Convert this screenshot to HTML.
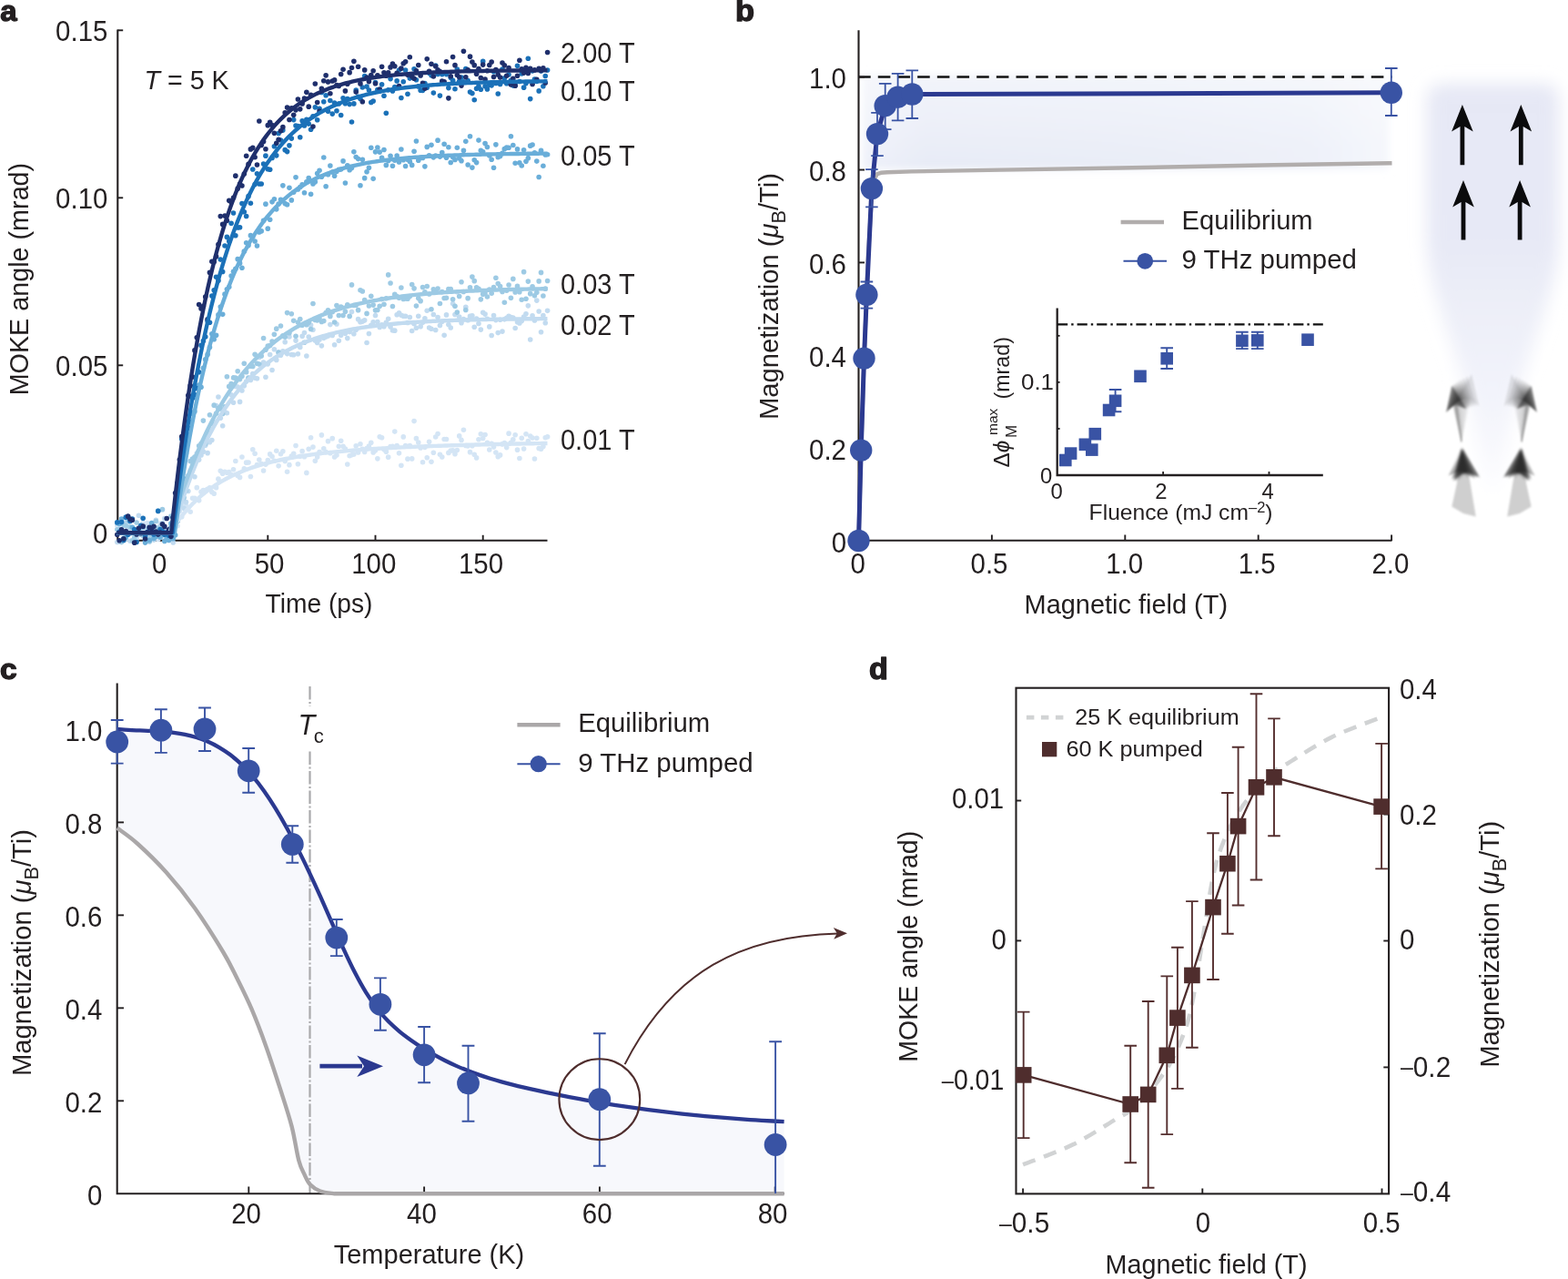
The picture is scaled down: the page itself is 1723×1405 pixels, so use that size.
<!DOCTYPE html>
<html lang="en">
<head>
<meta charset="utf-8">
<title>Figure: light-induced magnetization</title>
<style>
html,body{margin:0;padding:0;background:#fff;}
body{width:1723px;height:1405px;overflow:hidden;font-family:"Liberation Sans",sans-serif;}
svg{display:block;}
svg text{font-family:"Liberation Sans",sans-serif;fill:#231f20;}
</style>
</head>
<body>
<svg width="1723" height="1405" viewBox="0 0 1723 1405">
<defs>
<filter id="blur2" x="-30%" y="-30%" width="160%" height="160%"><feGaussianBlur stdDeviation="0.9"/></filter>
<filter id="blur5" x="-10%" y="-30%" width="120%" height="160%"><feGaussianBlur stdDeviation="4"/></filter>
<filter id="blur12" x="-30%" y="-30%" width="160%" height="160%"><feGaussianBlur stdDeviation="9"/></filter>
<linearGradient id="bshade" x1="0" y1="0" x2="1" y2="0">
<stop offset="0" stop-color="#edf0f9"/><stop offset="0.12" stop-color="#e6eaf6"/><stop offset="0.5" stop-color="#e9edf7"/><stop offset="0.85" stop-color="#eef1f9"/><stop offset="1" stop-color="#f5f7fc"/>
</linearGradient>
<linearGradient id="bshade2" x1="0" y1="0" x2="0.35" y2="1">
<stop offset="0" stop-color="#fff" stop-opacity="0.5"/><stop offset="0.45" stop-color="#fff" stop-opacity="0.3"/><stop offset="1" stop-color="#fff" stop-opacity="0"/>
</linearGradient>
<linearGradient id="spinbg" x1="0" y1="90" x2="0" y2="548" gradientUnits="userSpaceOnUse">
<stop offset="0" stop-color="#e6e8f5"/><stop offset="0.38" stop-color="#e7e9f6"/><stop offset="0.55" stop-color="#edeff8"/><stop offset="0.78" stop-color="#f3f4fb"/><stop offset="1" stop-color="#fdfdff"/>
</linearGradient>
<radialGradient id="headUL" gradientUnits="userSpaceOnUse" cx="1603.8" cy="434.0" r="19"><stop offset="0" stop-color="#111" stop-opacity="0.95"/><stop offset="0.3" stop-color="#333" stop-opacity="0.8"/><stop offset="0.65" stop-color="#666" stop-opacity="0.55"/><stop offset="1" stop-color="#999" stop-opacity="0.3"/></radialGradient>
<radialGradient id="headLL" gradientUnits="userSpaceOnUse" cx="1610.6" cy="512.4" r="17"><stop offset="0" stop-color="#050505" stop-opacity="1"/><stop offset="0.35" stop-color="#111" stop-opacity="0.95"/><stop offset="0.7" stop-color="#555" stop-opacity="0.65"/><stop offset="1" stop-color="#999" stop-opacity="0.35"/></radialGradient>
<radialGradient id="headUR" gradientUnits="userSpaceOnUse" cx="1674.2" cy="434.0" r="19"><stop offset="0" stop-color="#111" stop-opacity="0.95"/><stop offset="0.3" stop-color="#333" stop-opacity="0.8"/><stop offset="0.65" stop-color="#666" stop-opacity="0.55"/><stop offset="1" stop-color="#999" stop-opacity="0.3"/></radialGradient>
<radialGradient id="headLR" gradientUnits="userSpaceOnUse" cx="1667.4" cy="512.4" r="17"><stop offset="0" stop-color="#050505" stop-opacity="1"/><stop offset="0.35" stop-color="#111" stop-opacity="0.95"/><stop offset="0.7" stop-color="#555" stop-opacity="0.65"/><stop offset="1" stop-color="#999" stop-opacity="0.35"/></radialGradient>
<linearGradient id="shaftU" gradientUnits="userSpaceOnUse" x1="0" y1="438.7" x2="0" y2="486.7"><stop offset="0" stop-color="#888" stop-opacity="0.5"/><stop offset="0.6" stop-color="#666" stop-opacity="0.6"/><stop offset="1" stop-color="#555" stop-opacity="0.55"/></linearGradient>
<linearGradient id="tailL" gradientUnits="userSpaceOnUse" x1="0" y1="525.3" x2="0" y2="567.5"><stop offset="0" stop-color="#999" stop-opacity="0.7"/><stop offset="0.3" stop-color="#bbb" stop-opacity="0.75"/><stop offset="1" stop-color="#ccc" stop-opacity="0.75"/></linearGradient>

</defs>
<g id="panel-a">
<path d="M129.3 32.4V593.8H601.5" stroke="#231f20" stroke-width="2.1" fill="none"/>
<line x1="129.3" y1="401.3" x2="135.2" y2="401.3" stroke="#231f20" stroke-width="1.9"/>
<line x1="129.3" y1="217.3" x2="135.2" y2="217.3" stroke="#231f20" stroke-width="1.9"/>
<line x1="129.3" y1="33.3" x2="135.2" y2="33.3" stroke="#231f20" stroke-width="1.9"/>
<line x1="294.3" y1="594" x2="294.3" y2="587.8" stroke="#231f20" stroke-width="1.9"/>
<line x1="412.5" y1="594" x2="412.5" y2="587.8" stroke="#231f20" stroke-width="1.9"/>
<line x1="530.7" y1="594" x2="530.7" y2="587.8" stroke="#231f20" stroke-width="1.9"/>
<g fill="#d4e5f5"><circle cx="128.82" cy="577.45" r="2.8"/><circle cx="131.18" cy="585.32" r="2.8"/><circle cx="133.55" cy="581.36" r="2.8"/><circle cx="135.91" cy="571.08" r="2.8"/><circle cx="138.28" cy="592.2" r="2.8"/><circle cx="140.64" cy="576.6" r="2.8"/><circle cx="143" cy="572.11" r="2.8"/><circle cx="145.37" cy="583.21" r="2.8"/><circle cx="147.73" cy="583.33" r="2.8"/><circle cx="150.1" cy="590.84" r="2.8"/><circle cx="152.46" cy="579.5" r="2.8"/><circle cx="154.82" cy="581.33" r="2.8"/><circle cx="157.19" cy="574.67" r="2.8"/><circle cx="159.55" cy="578.93" r="2.8"/><circle cx="161.92" cy="574.59" r="2.8"/><circle cx="164.28" cy="582.3" r="2.8"/><circle cx="166.64" cy="580.77" r="2.8"/><circle cx="169.01" cy="578.89" r="2.8"/><circle cx="171.37" cy="581.21" r="2.8"/><circle cx="173.74" cy="592.47" r="2.8"/><circle cx="176.1" cy="574.93" r="2.8"/><circle cx="178.46" cy="577.51" r="2.8"/><circle cx="180.83" cy="589.67" r="2.8"/><circle cx="183.19" cy="587.96" r="2.8"/><circle cx="185.56" cy="585.25" r="2.8"/><circle cx="187.92" cy="577.45" r="2.8"/><circle cx="190.28" cy="579.45" r="2.8"/><circle cx="192.65" cy="568.36" r="2.8"/><circle cx="195.01" cy="577.7" r="2.8"/><circle cx="197.38" cy="561.62" r="2.8"/><circle cx="199.74" cy="567.72" r="2.8"/><circle cx="202.1" cy="553.62" r="2.8"/><circle cx="204.47" cy="556.05" r="2.8"/><circle cx="206.83" cy="557.32" r="2.8"/><circle cx="209.2" cy="562.25" r="2.8"/><circle cx="211.56" cy="547.29" r="2.8"/><circle cx="213.92" cy="547.38" r="2.8"/><circle cx="216.29" cy="535.64" r="2.8"/><circle cx="218.65" cy="549.84" r="2.8"/><circle cx="221.02" cy="540.24" r="2.8"/><circle cx="223.38" cy="538.64" r="2.8"/><circle cx="225.74" cy="538.56" r="2.8"/><circle cx="228.11" cy="537.34" r="2.8"/><circle cx="230.47" cy="535.8" r="2.8"/><circle cx="232.84" cy="540.44" r="2.8"/><circle cx="235.2" cy="542.19" r="2.8"/><circle cx="237.56" cy="535.63" r="2.8"/><circle cx="239.93" cy="526.15" r="2.8"/><circle cx="242.29" cy="517.26" r="2.8"/><circle cx="244.66" cy="520.2" r="2.8"/><circle cx="247.02" cy="518.26" r="2.8"/><circle cx="249.38" cy="519.22" r="2.8"/><circle cx="251.75" cy="518.63" r="2.8"/><circle cx="254.11" cy="521.62" r="2.8"/><circle cx="256.48" cy="515.72" r="2.8"/><circle cx="258.84" cy="506.51" r="2.8"/><circle cx="261.2" cy="522.47" r="2.8"/><circle cx="263.57" cy="524.42" r="2.8"/><circle cx="265.93" cy="501.96" r="2.8"/><circle cx="268.3" cy="514.91" r="2.8"/><circle cx="270.66" cy="508.13" r="2.8"/><circle cx="273.02" cy="508.04" r="2.8"/><circle cx="275.39" cy="523.47" r="2.8"/><circle cx="277.75" cy="493.76" r="2.8"/><circle cx="280.12" cy="498.31" r="2.8"/><circle cx="282.48" cy="510.5" r="2.8"/><circle cx="284.84" cy="505.11" r="2.8"/><circle cx="287.21" cy="509.48" r="2.8"/><circle cx="289.57" cy="516.99" r="2.8"/><circle cx="291.94" cy="510.08" r="2.8"/><circle cx="294.3" cy="505.52" r="2.8"/><circle cx="296.66" cy="498.9" r="2.8"/><circle cx="299.03" cy="501.61" r="2.8"/><circle cx="301.39" cy="506.3" r="2.8"/><circle cx="303.76" cy="495.27" r="2.8"/><circle cx="306.12" cy="511.86" r="2.8"/><circle cx="308.48" cy="498.77" r="2.8"/><circle cx="310.85" cy="495.69" r="2.8"/><circle cx="313.21" cy="506.58" r="2.8"/><circle cx="315.58" cy="518.25" r="2.8"/><circle cx="317.94" cy="510.65" r="2.8"/><circle cx="320.3" cy="500.96" r="2.8"/><circle cx="322.67" cy="498.18" r="2.8"/><circle cx="325.03" cy="489.51" r="2.8"/><circle cx="327.4" cy="509.78" r="2.8"/><circle cx="329.76" cy="501.26" r="2.8"/><circle cx="332.12" cy="495.65" r="2.8"/><circle cx="334.49" cy="501.82" r="2.8"/><circle cx="336.85" cy="519.38" r="2.8"/><circle cx="339.22" cy="493.33" r="2.8"/><circle cx="341.58" cy="480.81" r="2.8"/><circle cx="343.94" cy="491.08" r="2.8"/><circle cx="346.31" cy="506.33" r="2.8"/><circle cx="348.67" cy="501.95" r="2.8"/><circle cx="351.04" cy="496.52" r="2.8"/><circle cx="353.4" cy="477.88" r="2.8"/><circle cx="355.76" cy="492.76" r="2.8"/><circle cx="358.13" cy="496.58" r="2.8"/><circle cx="360.49" cy="484.63" r="2.8"/><circle cx="362.86" cy="497.65" r="2.8"/><circle cx="365.22" cy="481.67" r="2.8"/><circle cx="367.58" cy="502.05" r="2.8"/><circle cx="369.95" cy="500.11" r="2.8"/><circle cx="372.31" cy="490.21" r="2.8"/><circle cx="374.68" cy="484.29" r="2.8"/><circle cx="377.04" cy="490.32" r="2.8"/><circle cx="379.4" cy="492.96" r="2.8"/><circle cx="381.77" cy="509.95" r="2.8"/><circle cx="384.13" cy="500.77" r="2.8"/><circle cx="386.5" cy="499.75" r="2.8"/><circle cx="388.86" cy="498.94" r="2.8"/><circle cx="391.22" cy="489.69" r="2.8"/><circle cx="393.59" cy="496.97" r="2.8"/><circle cx="395.95" cy="487.71" r="2.8"/><circle cx="398.32" cy="493.25" r="2.8"/><circle cx="400.68" cy="496.44" r="2.8"/><circle cx="403.04" cy="492.63" r="2.8"/><circle cx="405.41" cy="489.95" r="2.8"/><circle cx="407.77" cy="486.32" r="2.8"/><circle cx="410.14" cy="496.98" r="2.8"/><circle cx="412.5" cy="494.85" r="2.8"/><circle cx="414.86" cy="503.87" r="2.8"/><circle cx="417.23" cy="479.7" r="2.8"/><circle cx="419.59" cy="480.79" r="2.8"/><circle cx="421.96" cy="493.86" r="2.8"/><circle cx="424.32" cy="496.15" r="2.8"/><circle cx="426.68" cy="502.15" r="2.8"/><circle cx="429.05" cy="490.65" r="2.8"/><circle cx="431.41" cy="490.23" r="2.8"/><circle cx="433.78" cy="474.11" r="2.8"/><circle cx="436.14" cy="489.66" r="2.8"/><circle cx="438.5" cy="497.84" r="2.8"/><circle cx="440.87" cy="511.22" r="2.8"/><circle cx="443.23" cy="479.9" r="2.8"/><circle cx="445.6" cy="489.67" r="2.8"/><circle cx="447.96" cy="504.13" r="2.8"/><circle cx="450.32" cy="489.53" r="2.8"/><circle cx="452.69" cy="503.91" r="2.8"/><circle cx="455.05" cy="462.61" r="2.8"/><circle cx="457.42" cy="481.63" r="2.8"/><circle cx="459.78" cy="485.96" r="2.8"/><circle cx="462.14" cy="491.91" r="2.8"/><circle cx="464.51" cy="507.72" r="2.8"/><circle cx="466.87" cy="491.33" r="2.8"/><circle cx="469.24" cy="502.8" r="2.8"/><circle cx="471.6" cy="485.3" r="2.8"/><circle cx="473.96" cy="507.36" r="2.8"/><circle cx="476.33" cy="497.3" r="2.8"/><circle cx="478.69" cy="480" r="2.8"/><circle cx="481.06" cy="476.48" r="2.8"/><circle cx="483.42" cy="499.27" r="2.8"/><circle cx="485.78" cy="502.05" r="2.8"/><circle cx="488.15" cy="482.43" r="2.8"/><circle cx="490.51" cy="482.57" r="2.8"/><circle cx="492.88" cy="497.38" r="2.8"/><circle cx="495.24" cy="494.94" r="2.8"/><circle cx="497.6" cy="494.87" r="2.8"/><circle cx="499.97" cy="498.81" r="2.8"/><circle cx="502.33" cy="494.61" r="2.8"/><circle cx="504.7" cy="478.91" r="2.8"/><circle cx="507.06" cy="483.39" r="2.8"/><circle cx="509.42" cy="472.25" r="2.8"/><circle cx="511.79" cy="489.54" r="2.8"/><circle cx="514.15" cy="489.87" r="2.8"/><circle cx="516.52" cy="496.66" r="2.8"/><circle cx="518.88" cy="489.65" r="2.8"/><circle cx="521.24" cy="499.21" r="2.8"/><circle cx="523.61" cy="502.91" r="2.8"/><circle cx="525.97" cy="482.82" r="2.8"/><circle cx="528.34" cy="476.74" r="2.8"/><circle cx="530.7" cy="481.57" r="2.8"/><circle cx="533.06" cy="477.5" r="2.8"/><circle cx="535.43" cy="486.19" r="2.8"/><circle cx="537.79" cy="493.99" r="2.8"/><circle cx="540.16" cy="487.42" r="2.8"/><circle cx="542.52" cy="491.09" r="2.8"/><circle cx="544.88" cy="497.01" r="2.8"/><circle cx="547.25" cy="501.66" r="2.8"/><circle cx="549.61" cy="499.91" r="2.8"/><circle cx="551.98" cy="487.9" r="2.8"/><circle cx="554.34" cy="486.59" r="2.8"/><circle cx="556.7" cy="491.6" r="2.8"/><circle cx="559.07" cy="476.14" r="2.8"/><circle cx="561.43" cy="486.22" r="2.8"/><circle cx="563.8" cy="482.9" r="2.8"/><circle cx="566.16" cy="477.71" r="2.8"/><circle cx="568.52" cy="494.17" r="2.8"/><circle cx="570.89" cy="503.43" r="2.8"/><circle cx="573.25" cy="481.35" r="2.8"/><circle cx="575.62" cy="492.97" r="2.8"/><circle cx="577.98" cy="476.74" r="2.8"/><circle cx="580.34" cy="484.58" r="2.8"/><circle cx="582.71" cy="479.12" r="2.8"/><circle cx="585.07" cy="481.04" r="2.8"/><circle cx="587.44" cy="504.03" r="2.8"/><circle cx="589.8" cy="481.32" r="2.8"/><circle cx="592.16" cy="492.56" r="2.8"/><circle cx="594.53" cy="493.19" r="2.8"/><circle cx="596.89" cy="490.55" r="2.8"/><circle cx="599.26" cy="480.77" r="2.8"/><circle cx="601.62" cy="479.79" r="2.8"/></g>
<g fill="#c2dbf0"><circle cx="128.82" cy="595.44" r="2.8"/><circle cx="131.18" cy="595.12" r="2.8"/><circle cx="133.55" cy="572.34" r="2.8"/><circle cx="135.91" cy="574.73" r="2.8"/><circle cx="138.28" cy="574.41" r="2.8"/><circle cx="140.64" cy="580.49" r="2.8"/><circle cx="143" cy="594.24" r="2.8"/><circle cx="145.37" cy="579.77" r="2.8"/><circle cx="147.73" cy="582.63" r="2.8"/><circle cx="150.1" cy="591.88" r="2.8"/><circle cx="152.46" cy="566.21" r="2.8"/><circle cx="154.82" cy="580.21" r="2.8"/><circle cx="157.19" cy="580.23" r="2.8"/><circle cx="159.55" cy="586.49" r="2.8"/><circle cx="161.92" cy="578.66" r="2.8"/><circle cx="164.28" cy="587.75" r="2.8"/><circle cx="166.64" cy="590.18" r="2.8"/><circle cx="169.01" cy="593.08" r="2.8"/><circle cx="171.37" cy="571.26" r="2.8"/><circle cx="173.74" cy="579.61" r="2.8"/><circle cx="176.1" cy="578.35" r="2.8"/><circle cx="178.46" cy="574.43" r="2.8"/><circle cx="180.83" cy="569.53" r="2.8"/><circle cx="183.19" cy="582.34" r="2.8"/><circle cx="185.56" cy="589.61" r="2.8"/><circle cx="187.92" cy="580.2" r="2.8"/><circle cx="190.28" cy="596.06" r="2.8"/><circle cx="192.65" cy="561.61" r="2.8"/><circle cx="195.01" cy="572.46" r="2.8"/><circle cx="197.38" cy="552.42" r="2.8"/><circle cx="199.74" cy="544.68" r="2.8"/><circle cx="202.1" cy="558.35" r="2.8"/><circle cx="204.47" cy="551.64" r="2.8"/><circle cx="206.83" cy="539.51" r="2.8"/><circle cx="209.2" cy="516.96" r="2.8"/><circle cx="211.56" cy="507.4" r="2.8"/><circle cx="213.92" cy="523.78" r="2.8"/><circle cx="216.29" cy="497.98" r="2.8"/><circle cx="218.65" cy="505.12" r="2.8"/><circle cx="221.02" cy="499.9" r="2.8"/><circle cx="223.38" cy="496.16" r="2.8"/><circle cx="225.74" cy="489.21" r="2.8"/><circle cx="228.11" cy="497.63" r="2.8"/><circle cx="230.47" cy="485.81" r="2.8"/><circle cx="232.84" cy="483.43" r="2.8"/><circle cx="235.2" cy="463.9" r="2.8"/><circle cx="237.56" cy="445.64" r="2.8"/><circle cx="239.93" cy="435.97" r="2.8"/><circle cx="242.29" cy="459.21" r="2.8"/><circle cx="244.66" cy="467.72" r="2.8"/><circle cx="247.02" cy="452.52" r="2.8"/><circle cx="249.38" cy="453.75" r="2.8"/><circle cx="251.75" cy="424.59" r="2.8"/><circle cx="254.11" cy="433.84" r="2.8"/><circle cx="256.48" cy="442.2" r="2.8"/><circle cx="258.84" cy="424.49" r="2.8"/><circle cx="261.2" cy="425.12" r="2.8"/><circle cx="263.57" cy="441.41" r="2.8"/><circle cx="265.93" cy="429.04" r="2.8"/><circle cx="268.3" cy="423.85" r="2.8"/><circle cx="270.66" cy="419.05" r="2.8"/><circle cx="273.02" cy="415.62" r="2.8"/><circle cx="275.39" cy="417.44" r="2.8"/><circle cx="277.75" cy="410.51" r="2.8"/><circle cx="280.12" cy="415.18" r="2.8"/><circle cx="282.48" cy="415.81" r="2.8"/><circle cx="284.84" cy="392.47" r="2.8"/><circle cx="287.21" cy="400.71" r="2.8"/><circle cx="289.57" cy="398.13" r="2.8"/><circle cx="291.94" cy="414.26" r="2.8"/><circle cx="294.3" cy="399.87" r="2.8"/><circle cx="296.66" cy="389.47" r="2.8"/><circle cx="299.03" cy="406.46" r="2.8"/><circle cx="301.39" cy="383.78" r="2.8"/><circle cx="303.76" cy="395.38" r="2.8"/><circle cx="306.12" cy="386.91" r="2.8"/><circle cx="308.48" cy="390.21" r="2.8"/><circle cx="310.85" cy="385.73" r="2.8"/><circle cx="313.21" cy="375.71" r="2.8"/><circle cx="315.58" cy="388.62" r="2.8"/><circle cx="317.94" cy="370" r="2.8"/><circle cx="320.3" cy="389.53" r="2.8"/><circle cx="322.67" cy="389.7" r="2.8"/><circle cx="325.03" cy="374.08" r="2.8"/><circle cx="327.4" cy="388.7" r="2.8"/><circle cx="329.76" cy="381.52" r="2.8"/><circle cx="332.12" cy="369.24" r="2.8"/><circle cx="334.49" cy="365.59" r="2.8"/><circle cx="336.85" cy="391.03" r="2.8"/><circle cx="339.22" cy="369.99" r="2.8"/><circle cx="341.58" cy="356.95" r="2.8"/><circle cx="343.94" cy="362.2" r="2.8"/><circle cx="346.31" cy="374.07" r="2.8"/><circle cx="348.67" cy="376.47" r="2.8"/><circle cx="351.04" cy="373.03" r="2.8"/><circle cx="353.4" cy="379.87" r="2.8"/><circle cx="355.76" cy="371.33" r="2.8"/><circle cx="358.13" cy="369.97" r="2.8"/><circle cx="360.49" cy="368.95" r="2.8"/><circle cx="362.86" cy="356.59" r="2.8"/><circle cx="365.22" cy="368.46" r="2.8"/><circle cx="367.58" cy="378.71" r="2.8"/><circle cx="369.95" cy="355.99" r="2.8"/><circle cx="372.31" cy="374.2" r="2.8"/><circle cx="374.68" cy="368.15" r="2.8"/><circle cx="377.04" cy="364.87" r="2.8"/><circle cx="379.4" cy="366.24" r="2.8"/><circle cx="381.77" cy="371.58" r="2.8"/><circle cx="384.13" cy="364.47" r="2.8"/><circle cx="386.5" cy="342.54" r="2.8"/><circle cx="388.86" cy="366.76" r="2.8"/><circle cx="391.22" cy="362.19" r="2.8"/><circle cx="393.59" cy="350.67" r="2.8"/><circle cx="395.95" cy="353.63" r="2.8"/><circle cx="398.32" cy="353.1" r="2.8"/><circle cx="400.68" cy="351.87" r="2.8"/><circle cx="403.04" cy="376.52" r="2.8"/><circle cx="405.41" cy="366.44" r="2.8"/><circle cx="407.77" cy="357.35" r="2.8"/><circle cx="410.14" cy="353.77" r="2.8"/><circle cx="412.5" cy="346.45" r="2.8"/><circle cx="414.86" cy="353.44" r="2.8"/><circle cx="417.23" cy="359.42" r="2.8"/><circle cx="419.59" cy="356.7" r="2.8"/><circle cx="421.96" cy="358.65" r="2.8"/><circle cx="424.32" cy="354.35" r="2.8"/><circle cx="426.68" cy="350.34" r="2.8"/><circle cx="429.05" cy="359.06" r="2.8"/><circle cx="431.41" cy="363.02" r="2.8"/><circle cx="433.78" cy="363.17" r="2.8"/><circle cx="436.14" cy="345.72" r="2.8"/><circle cx="438.5" cy="343.9" r="2.8"/><circle cx="440.87" cy="346.25" r="2.8"/><circle cx="443.23" cy="347.26" r="2.8"/><circle cx="445.6" cy="347.29" r="2.8"/><circle cx="447.96" cy="354.49" r="2.8"/><circle cx="450.32" cy="348.44" r="2.8"/><circle cx="452.69" cy="363.43" r="2.8"/><circle cx="455.05" cy="355.77" r="2.8"/><circle cx="457.42" cy="360.31" r="2.8"/><circle cx="459.78" cy="347.26" r="2.8"/><circle cx="462.14" cy="358.66" r="2.8"/><circle cx="464.51" cy="354.36" r="2.8"/><circle cx="466.87" cy="349.74" r="2.8"/><circle cx="469.24" cy="341.18" r="2.8"/><circle cx="471.6" cy="360.02" r="2.8"/><circle cx="473.96" cy="361.2" r="2.8"/><circle cx="476.33" cy="345.57" r="2.8"/><circle cx="478.69" cy="362.45" r="2.8"/><circle cx="481.06" cy="348.58" r="2.8"/><circle cx="483.42" cy="357.51" r="2.8"/><circle cx="485.78" cy="353.3" r="2.8"/><circle cx="488.15" cy="368.36" r="2.8"/><circle cx="490.51" cy="345.88" r="2.8"/><circle cx="492.88" cy="356.51" r="2.8"/><circle cx="495.24" cy="359.94" r="2.8"/><circle cx="497.6" cy="333.58" r="2.8"/><circle cx="499.97" cy="345.56" r="2.8"/><circle cx="502.33" cy="320.78" r="2.8"/><circle cx="504.7" cy="348.09" r="2.8"/><circle cx="507.06" cy="354.7" r="2.8"/><circle cx="509.42" cy="350.6" r="2.8"/><circle cx="511.79" cy="337.29" r="2.8"/><circle cx="514.15" cy="351.66" r="2.8"/><circle cx="516.52" cy="347.37" r="2.8"/><circle cx="518.88" cy="346.73" r="2.8"/><circle cx="521.24" cy="359.28" r="2.8"/><circle cx="523.61" cy="350.04" r="2.8"/><circle cx="525.97" cy="355.57" r="2.8"/><circle cx="528.34" cy="362.08" r="2.8"/><circle cx="530.7" cy="343.32" r="2.8"/><circle cx="533.06" cy="345.1" r="2.8"/><circle cx="535.43" cy="350.27" r="2.8"/><circle cx="537.79" cy="358.9" r="2.8"/><circle cx="540.16" cy="368.56" r="2.8"/><circle cx="542.52" cy="346.51" r="2.8"/><circle cx="544.88" cy="351.62" r="2.8"/><circle cx="547.25" cy="365.59" r="2.8"/><circle cx="549.61" cy="351.21" r="2.8"/><circle cx="551.98" cy="364.08" r="2.8"/><circle cx="554.34" cy="350.84" r="2.8"/><circle cx="556.7" cy="349.31" r="2.8"/><circle cx="559.07" cy="347.41" r="2.8"/><circle cx="561.43" cy="348.59" r="2.8"/><circle cx="563.8" cy="348.97" r="2.8"/><circle cx="566.16" cy="360.52" r="2.8"/><circle cx="568.52" cy="353.81" r="2.8"/><circle cx="570.89" cy="354.91" r="2.8"/><circle cx="573.25" cy="352.45" r="2.8"/><circle cx="575.62" cy="347.96" r="2.8"/><circle cx="577.98" cy="344.85" r="2.8"/><circle cx="580.34" cy="335.85" r="2.8"/><circle cx="582.71" cy="372.96" r="2.8"/><circle cx="585.07" cy="346.7" r="2.8"/><circle cx="587.44" cy="351.98" r="2.8"/><circle cx="589.8" cy="330.1" r="2.8"/><circle cx="592.16" cy="341.94" r="2.8"/><circle cx="594.53" cy="364.76" r="2.8"/><circle cx="596.89" cy="346.6" r="2.8"/><circle cx="599.26" cy="354.73" r="2.8"/><circle cx="601.62" cy="341.34" r="2.8"/></g>
<g fill="#9dcae4"><circle cx="128.82" cy="581.68" r="2.8"/><circle cx="131.18" cy="581.64" r="2.8"/><circle cx="133.55" cy="595.59" r="2.8"/><circle cx="135.91" cy="576.65" r="2.8"/><circle cx="138.28" cy="577.52" r="2.8"/><circle cx="140.64" cy="571.67" r="2.8"/><circle cx="143" cy="578.98" r="2.8"/><circle cx="145.37" cy="593.86" r="2.8"/><circle cx="147.73" cy="590.34" r="2.8"/><circle cx="150.1" cy="574.04" r="2.8"/><circle cx="152.46" cy="581.46" r="2.8"/><circle cx="154.82" cy="587.21" r="2.8"/><circle cx="157.19" cy="588.5" r="2.8"/><circle cx="159.55" cy="594.47" r="2.8"/><circle cx="161.92" cy="591.79" r="2.8"/><circle cx="164.28" cy="594.97" r="2.8"/><circle cx="166.64" cy="589.75" r="2.8"/><circle cx="169.01" cy="584.11" r="2.8"/><circle cx="171.37" cy="572.45" r="2.8"/><circle cx="173.74" cy="580.23" r="2.8"/><circle cx="176.1" cy="590.24" r="2.8"/><circle cx="178.46" cy="559.67" r="2.8"/><circle cx="180.83" cy="587.71" r="2.8"/><circle cx="183.19" cy="590.46" r="2.8"/><circle cx="185.56" cy="582.59" r="2.8"/><circle cx="187.92" cy="567.05" r="2.8"/><circle cx="190.28" cy="572.2" r="2.8"/><circle cx="192.65" cy="569.08" r="2.8"/><circle cx="195.01" cy="571.66" r="2.8"/><circle cx="197.38" cy="547.5" r="2.8"/><circle cx="199.74" cy="542.6" r="2.8"/><circle cx="202.1" cy="546.73" r="2.8"/><circle cx="204.47" cy="538.76" r="2.8"/><circle cx="206.83" cy="522.66" r="2.8"/><circle cx="209.2" cy="506.67" r="2.8"/><circle cx="211.56" cy="504.13" r="2.8"/><circle cx="213.92" cy="502.09" r="2.8"/><circle cx="216.29" cy="501.23" r="2.8"/><circle cx="218.65" cy="489.75" r="2.8"/><circle cx="221.02" cy="487.42" r="2.8"/><circle cx="223.38" cy="462.1" r="2.8"/><circle cx="225.74" cy="487.44" r="2.8"/><circle cx="228.11" cy="475.51" r="2.8"/><circle cx="230.47" cy="455.69" r="2.8"/><circle cx="232.84" cy="465.19" r="2.8"/><circle cx="235.2" cy="445.16" r="2.8"/><circle cx="237.56" cy="454.34" r="2.8"/><circle cx="239.93" cy="448.39" r="2.8"/><circle cx="242.29" cy="449.06" r="2.8"/><circle cx="244.66" cy="454.4" r="2.8"/><circle cx="247.02" cy="446.8" r="2.8"/><circle cx="249.38" cy="413.78" r="2.8"/><circle cx="251.75" cy="424.62" r="2.8"/><circle cx="254.11" cy="421.49" r="2.8"/><circle cx="256.48" cy="414.91" r="2.8"/><circle cx="258.84" cy="415.16" r="2.8"/><circle cx="261.2" cy="407.81" r="2.8"/><circle cx="263.57" cy="416.58" r="2.8"/><circle cx="265.93" cy="413.19" r="2.8"/><circle cx="268.3" cy="399.19" r="2.8"/><circle cx="270.66" cy="408.67" r="2.8"/><circle cx="273.02" cy="414.95" r="2.8"/><circle cx="275.39" cy="402.14" r="2.8"/><circle cx="277.75" cy="402.51" r="2.8"/><circle cx="280.12" cy="389.37" r="2.8"/><circle cx="282.48" cy="399.23" r="2.8"/><circle cx="284.84" cy="400.04" r="2.8"/><circle cx="287.21" cy="391.06" r="2.8"/><circle cx="289.57" cy="371.53" r="2.8"/><circle cx="291.94" cy="384.13" r="2.8"/><circle cx="294.3" cy="380.14" r="2.8"/><circle cx="296.66" cy="379.54" r="2.8"/><circle cx="299.03" cy="374.97" r="2.8"/><circle cx="301.39" cy="367.26" r="2.8"/><circle cx="303.76" cy="361.14" r="2.8"/><circle cx="306.12" cy="387.34" r="2.8"/><circle cx="308.48" cy="357.98" r="2.8"/><circle cx="310.85" cy="368.87" r="2.8"/><circle cx="313.21" cy="370.18" r="2.8"/><circle cx="315.58" cy="343.6" r="2.8"/><circle cx="317.94" cy="365.72" r="2.8"/><circle cx="320.3" cy="344.8" r="2.8"/><circle cx="322.67" cy="352.36" r="2.8"/><circle cx="325.03" cy="369.36" r="2.8"/><circle cx="327.4" cy="354.06" r="2.8"/><circle cx="329.76" cy="350.47" r="2.8"/><circle cx="332.12" cy="357.15" r="2.8"/><circle cx="334.49" cy="376.19" r="2.8"/><circle cx="336.85" cy="356.76" r="2.8"/><circle cx="339.22" cy="354.21" r="2.8"/><circle cx="341.58" cy="361.53" r="2.8"/><circle cx="343.94" cy="333.47" r="2.8"/><circle cx="346.31" cy="351.47" r="2.8"/><circle cx="348.67" cy="351.83" r="2.8"/><circle cx="351.04" cy="349.98" r="2.8"/><circle cx="353.4" cy="353.48" r="2.8"/><circle cx="355.76" cy="352.49" r="2.8"/><circle cx="358.13" cy="343.59" r="2.8"/><circle cx="360.49" cy="340.71" r="2.8"/><circle cx="362.86" cy="347.42" r="2.8"/><circle cx="365.22" cy="342.77" r="2.8"/><circle cx="367.58" cy="353.93" r="2.8"/><circle cx="369.95" cy="335.58" r="2.8"/><circle cx="372.31" cy="346.53" r="2.8"/><circle cx="374.68" cy="336.94" r="2.8"/><circle cx="377.04" cy="346.56" r="2.8"/><circle cx="379.4" cy="342.28" r="2.8"/><circle cx="381.77" cy="334.91" r="2.8"/><circle cx="384.13" cy="347.39" r="2.8"/><circle cx="386.5" cy="312.91" r="2.8"/><circle cx="388.86" cy="335.37" r="2.8"/><circle cx="391.22" cy="335.13" r="2.8"/><circle cx="393.59" cy="340.65" r="2.8"/><circle cx="395.95" cy="318.68" r="2.8"/><circle cx="398.32" cy="320.07" r="2.8"/><circle cx="400.68" cy="329.55" r="2.8"/><circle cx="403.04" cy="344.4" r="2.8"/><circle cx="405.41" cy="335.97" r="2.8"/><circle cx="407.77" cy="325.2" r="2.8"/><circle cx="410.14" cy="335.12" r="2.8"/><circle cx="412.5" cy="340.87" r="2.8"/><circle cx="414.86" cy="340.47" r="2.8"/><circle cx="417.23" cy="336.23" r="2.8"/><circle cx="419.59" cy="328.61" r="2.8"/><circle cx="421.96" cy="334.32" r="2.8"/><circle cx="424.32" cy="327.8" r="2.8"/><circle cx="426.68" cy="301.92" r="2.8"/><circle cx="429.05" cy="310.94" r="2.8"/><circle cx="431.41" cy="336.46" r="2.8"/><circle cx="433.78" cy="323.42" r="2.8"/><circle cx="436.14" cy="325.46" r="2.8"/><circle cx="438.5" cy="327.22" r="2.8"/><circle cx="440.87" cy="316.04" r="2.8"/><circle cx="443.23" cy="328.41" r="2.8"/><circle cx="445.6" cy="328.06" r="2.8"/><circle cx="447.96" cy="328.24" r="2.8"/><circle cx="450.32" cy="325.45" r="2.8"/><circle cx="452.69" cy="312.43" r="2.8"/><circle cx="455.05" cy="316.87" r="2.8"/><circle cx="457.42" cy="336.11" r="2.8"/><circle cx="459.78" cy="327.6" r="2.8"/><circle cx="462.14" cy="330.64" r="2.8"/><circle cx="464.51" cy="315.57" r="2.8"/><circle cx="466.87" cy="320.8" r="2.8"/><circle cx="469.24" cy="314.47" r="2.8"/><circle cx="471.6" cy="323.03" r="2.8"/><circle cx="473.96" cy="339.82" r="2.8"/><circle cx="476.33" cy="317.92" r="2.8"/><circle cx="478.69" cy="319.79" r="2.8"/><circle cx="481.06" cy="317.03" r="2.8"/><circle cx="483.42" cy="333.52" r="2.8"/><circle cx="485.78" cy="320.61" r="2.8"/><circle cx="488.15" cy="327.53" r="2.8"/><circle cx="490.51" cy="327.36" r="2.8"/><circle cx="492.88" cy="317.64" r="2.8"/><circle cx="495.24" cy="317.5" r="2.8"/><circle cx="497.6" cy="328.81" r="2.8"/><circle cx="499.97" cy="336.21" r="2.8"/><circle cx="502.33" cy="343.08" r="2.8"/><circle cx="504.7" cy="325.48" r="2.8"/><circle cx="507.06" cy="309.74" r="2.8"/><circle cx="509.42" cy="320.45" r="2.8"/><circle cx="511.79" cy="340.53" r="2.8"/><circle cx="514.15" cy="327.64" r="2.8"/><circle cx="516.52" cy="315.71" r="2.8"/><circle cx="518.88" cy="304.1" r="2.8"/><circle cx="521.24" cy="308.63" r="2.8"/><circle cx="523.61" cy="315.9" r="2.8"/><circle cx="525.97" cy="317.36" r="2.8"/><circle cx="528.34" cy="328.83" r="2.8"/><circle cx="530.7" cy="323.15" r="2.8"/><circle cx="533.06" cy="321.96" r="2.8"/><circle cx="535.43" cy="325.93" r="2.8"/><circle cx="537.79" cy="318.14" r="2.8"/><circle cx="540.16" cy="322.25" r="2.8"/><circle cx="542.52" cy="315.46" r="2.8"/><circle cx="544.88" cy="305.29" r="2.8"/><circle cx="547.25" cy="311.59" r="2.8"/><circle cx="549.61" cy="314.49" r="2.8"/><circle cx="551.98" cy="320.48" r="2.8"/><circle cx="554.34" cy="332.18" r="2.8"/><circle cx="556.7" cy="319.18" r="2.8"/><circle cx="559.07" cy="313.07" r="2.8"/><circle cx="561.43" cy="327.28" r="2.8"/><circle cx="563.8" cy="306.41" r="2.8"/><circle cx="566.16" cy="320.96" r="2.8"/><circle cx="568.52" cy="314.41" r="2.8"/><circle cx="570.89" cy="320.8" r="2.8"/><circle cx="573.25" cy="329.27" r="2.8"/><circle cx="575.62" cy="298.64" r="2.8"/><circle cx="577.98" cy="328.3" r="2.8"/><circle cx="580.34" cy="309.12" r="2.8"/><circle cx="582.71" cy="322.64" r="2.8"/><circle cx="585.07" cy="314.91" r="2.8"/><circle cx="587.44" cy="324.84" r="2.8"/><circle cx="589.8" cy="321.22" r="2.8"/><circle cx="592.16" cy="308.88" r="2.8"/><circle cx="594.53" cy="299.41" r="2.8"/><circle cx="596.89" cy="325.06" r="2.8"/><circle cx="599.26" cy="317.14" r="2.8"/><circle cx="601.62" cy="308.48" r="2.8"/></g>
<g fill="#6aaed9"><circle cx="128.82" cy="574.51" r="2.8"/><circle cx="131.18" cy="575.45" r="2.8"/><circle cx="133.55" cy="570.08" r="2.8"/><circle cx="135.91" cy="591.32" r="2.8"/><circle cx="138.28" cy="590.51" r="2.8"/><circle cx="140.64" cy="567.44" r="2.8"/><circle cx="143" cy="585.67" r="2.8"/><circle cx="145.37" cy="579.3" r="2.8"/><circle cx="147.73" cy="583.92" r="2.8"/><circle cx="150.1" cy="583.47" r="2.8"/><circle cx="152.46" cy="583.81" r="2.8"/><circle cx="154.82" cy="585.29" r="2.8"/><circle cx="157.19" cy="578.95" r="2.8"/><circle cx="159.55" cy="596.08" r="2.8"/><circle cx="161.92" cy="584.46" r="2.8"/><circle cx="164.28" cy="593.56" r="2.8"/><circle cx="166.64" cy="574.55" r="2.8"/><circle cx="169.01" cy="591.46" r="2.8"/><circle cx="171.37" cy="589.59" r="2.8"/><circle cx="173.74" cy="561.03" r="2.8"/><circle cx="176.1" cy="589.89" r="2.8"/><circle cx="178.46" cy="584.06" r="2.8"/><circle cx="180.83" cy="594.45" r="2.8"/><circle cx="183.19" cy="592.4" r="2.8"/><circle cx="185.56" cy="593.51" r="2.8"/><circle cx="187.92" cy="575.12" r="2.8"/><circle cx="190.28" cy="591.71" r="2.8"/><circle cx="192.65" cy="587.87" r="2.8"/><circle cx="195.01" cy="572.59" r="2.8"/><circle cx="197.38" cy="551.71" r="2.8"/><circle cx="199.74" cy="548.62" r="2.8"/><circle cx="202.1" cy="525.87" r="2.8"/><circle cx="204.47" cy="498.09" r="2.8"/><circle cx="206.83" cy="479.6" r="2.8"/><circle cx="209.2" cy="463.53" r="2.8"/><circle cx="211.56" cy="454.2" r="2.8"/><circle cx="213.92" cy="451.94" r="2.8"/><circle cx="216.29" cy="436.65" r="2.8"/><circle cx="218.65" cy="423.14" r="2.8"/><circle cx="221.02" cy="425.22" r="2.8"/><circle cx="223.38" cy="404.33" r="2.8"/><circle cx="225.74" cy="394.88" r="2.8"/><circle cx="228.11" cy="389.42" r="2.8"/><circle cx="230.47" cy="381.49" r="2.8"/><circle cx="232.84" cy="366.76" r="2.8"/><circle cx="235.2" cy="372.8" r="2.8"/><circle cx="237.56" cy="368.24" r="2.8"/><circle cx="239.93" cy="345.9" r="2.8"/><circle cx="242.29" cy="336.98" r="2.8"/><circle cx="244.66" cy="345.34" r="2.8"/><circle cx="247.02" cy="323.13" r="2.8"/><circle cx="249.38" cy="317.75" r="2.8"/><circle cx="251.75" cy="315.18" r="2.8"/><circle cx="254.11" cy="303.12" r="2.8"/><circle cx="256.48" cy="298.33" r="2.8"/><circle cx="258.84" cy="295.32" r="2.8"/><circle cx="261.2" cy="284.67" r="2.8"/><circle cx="263.57" cy="289.16" r="2.8"/><circle cx="265.93" cy="294.32" r="2.8"/><circle cx="268.3" cy="276.13" r="2.8"/><circle cx="270.66" cy="266.68" r="2.8"/><circle cx="273.02" cy="269.62" r="2.8"/><circle cx="275.39" cy="258.64" r="2.8"/><circle cx="277.75" cy="260.14" r="2.8"/><circle cx="280.12" cy="265.05" r="2.8"/><circle cx="282.48" cy="270.04" r="2.8"/><circle cx="284.84" cy="255.04" r="2.8"/><circle cx="287.21" cy="253.85" r="2.8"/><circle cx="289.57" cy="242.37" r="2.8"/><circle cx="291.94" cy="224.17" r="2.8"/><circle cx="294.3" cy="251.17" r="2.8"/><circle cx="296.66" cy="241.19" r="2.8"/><circle cx="299.03" cy="221.84" r="2.8"/><circle cx="301.39" cy="218.77" r="2.8"/><circle cx="303.76" cy="229.83" r="2.8"/><circle cx="306.12" cy="223.99" r="2.8"/><circle cx="308.48" cy="219.27" r="2.8"/><circle cx="310.85" cy="203.83" r="2.8"/><circle cx="313.21" cy="223.6" r="2.8"/><circle cx="315.58" cy="224.82" r="2.8"/><circle cx="317.94" cy="206.36" r="2.8"/><circle cx="320.3" cy="219.9" r="2.8"/><circle cx="322.67" cy="211.27" r="2.8"/><circle cx="325.03" cy="194.84" r="2.8"/><circle cx="327.4" cy="208.06" r="2.8"/><circle cx="329.76" cy="205.54" r="2.8"/><circle cx="332.12" cy="202.74" r="2.8"/><circle cx="334.49" cy="211.81" r="2.8"/><circle cx="336.85" cy="199.77" r="2.8"/><circle cx="339.22" cy="195.65" r="2.8"/><circle cx="341.58" cy="213.24" r="2.8"/><circle cx="343.94" cy="201.96" r="2.8"/><circle cx="346.31" cy="199.85" r="2.8"/><circle cx="348.67" cy="190.62" r="2.8"/><circle cx="351.04" cy="187.18" r="2.8"/><circle cx="353.4" cy="194.32" r="2.8"/><circle cx="355.76" cy="172.93" r="2.8"/><circle cx="358.13" cy="204.8" r="2.8"/><circle cx="360.49" cy="191.72" r="2.8"/><circle cx="362.86" cy="181.94" r="2.8"/><circle cx="365.22" cy="188.96" r="2.8"/><circle cx="367.58" cy="193.17" r="2.8"/><circle cx="369.95" cy="188.24" r="2.8"/><circle cx="372.31" cy="186.26" r="2.8"/><circle cx="374.68" cy="186.11" r="2.8"/><circle cx="377.04" cy="176.91" r="2.8"/><circle cx="379.4" cy="200.97" r="2.8"/><circle cx="381.77" cy="181.92" r="2.8"/><circle cx="384.13" cy="186.63" r="2.8"/><circle cx="386.5" cy="184.38" r="2.8"/><circle cx="388.86" cy="166.86" r="2.8"/><circle cx="391.22" cy="172.43" r="2.8"/><circle cx="393.59" cy="174.61" r="2.8"/><circle cx="395.95" cy="203.81" r="2.8"/><circle cx="398.32" cy="175.26" r="2.8"/><circle cx="400.68" cy="195.63" r="2.8"/><circle cx="403.04" cy="188.82" r="2.8"/><circle cx="405.41" cy="184.21" r="2.8"/><circle cx="407.77" cy="162.29" r="2.8"/><circle cx="410.14" cy="196.34" r="2.8"/><circle cx="412.5" cy="166.85" r="2.8"/><circle cx="414.86" cy="162.07" r="2.8"/><circle cx="417.23" cy="167.1" r="2.8"/><circle cx="419.59" cy="173.37" r="2.8"/><circle cx="421.96" cy="164.57" r="2.8"/><circle cx="424.32" cy="181.38" r="2.8"/><circle cx="426.68" cy="176.46" r="2.8"/><circle cx="429.05" cy="171.21" r="2.8"/><circle cx="431.41" cy="182.21" r="2.8"/><circle cx="433.78" cy="176.18" r="2.8"/><circle cx="436.14" cy="170.98" r="2.8"/><circle cx="438.5" cy="177.96" r="2.8"/><circle cx="440.87" cy="163.96" r="2.8"/><circle cx="443.23" cy="175.79" r="2.8"/><circle cx="445.6" cy="182.44" r="2.8"/><circle cx="447.96" cy="175.16" r="2.8"/><circle cx="450.32" cy="177.4" r="2.8"/><circle cx="452.69" cy="181.42" r="2.8"/><circle cx="455.05" cy="166.29" r="2.8"/><circle cx="457.42" cy="155.07" r="2.8"/><circle cx="459.78" cy="176.24" r="2.8"/><circle cx="462.14" cy="173.22" r="2.8"/><circle cx="464.51" cy="173.45" r="2.8"/><circle cx="466.87" cy="182.85" r="2.8"/><circle cx="469.24" cy="161.42" r="2.8"/><circle cx="471.6" cy="170.82" r="2.8"/><circle cx="473.96" cy="159.36" r="2.8"/><circle cx="476.33" cy="172.87" r="2.8"/><circle cx="478.69" cy="171.05" r="2.8"/><circle cx="481.06" cy="154.16" r="2.8"/><circle cx="483.42" cy="172.08" r="2.8"/><circle cx="485.78" cy="167.51" r="2.8"/><circle cx="488.15" cy="158.21" r="2.8"/><circle cx="490.51" cy="173.2" r="2.8"/><circle cx="492.88" cy="161.77" r="2.8"/><circle cx="495.24" cy="178.48" r="2.8"/><circle cx="497.6" cy="172.58" r="2.8"/><circle cx="499.97" cy="175.48" r="2.8"/><circle cx="502.33" cy="162.27" r="2.8"/><circle cx="504.7" cy="174.02" r="2.8"/><circle cx="507.06" cy="176.64" r="2.8"/><circle cx="509.42" cy="165.38" r="2.8"/><circle cx="511.79" cy="155.36" r="2.8"/><circle cx="514.15" cy="181.07" r="2.8"/><circle cx="516.52" cy="149.73" r="2.8"/><circle cx="518.88" cy="184.08" r="2.8"/><circle cx="521.24" cy="175.75" r="2.8"/><circle cx="523.61" cy="178.58" r="2.8"/><circle cx="525.97" cy="154.11" r="2.8"/><circle cx="528.34" cy="165.26" r="2.8"/><circle cx="530.7" cy="166.73" r="2.8"/><circle cx="533.06" cy="157.62" r="2.8"/><circle cx="535.43" cy="161.46" r="2.8"/><circle cx="537.79" cy="171.02" r="2.8"/><circle cx="540.16" cy="175.23" r="2.8"/><circle cx="542.52" cy="184.26" r="2.8"/><circle cx="544.88" cy="158.83" r="2.8"/><circle cx="547.25" cy="172.75" r="2.8"/><circle cx="549.61" cy="171.53" r="2.8"/><circle cx="551.98" cy="168.38" r="2.8"/><circle cx="554.34" cy="163.63" r="2.8"/><circle cx="556.7" cy="162.17" r="2.8"/><circle cx="559.07" cy="162.21" r="2.8"/><circle cx="561.43" cy="149.72" r="2.8"/><circle cx="563.8" cy="159.52" r="2.8"/><circle cx="566.16" cy="179.25" r="2.8"/><circle cx="568.52" cy="163.88" r="2.8"/><circle cx="570.89" cy="178.74" r="2.8"/><circle cx="573.25" cy="181.93" r="2.8"/><circle cx="575.62" cy="164.77" r="2.8"/><circle cx="577.98" cy="177.35" r="2.8"/><circle cx="580.34" cy="173.63" r="2.8"/><circle cx="582.71" cy="160.17" r="2.8"/><circle cx="585.07" cy="159.11" r="2.8"/><circle cx="587.44" cy="167.78" r="2.8"/><circle cx="589.8" cy="177.09" r="2.8"/><circle cx="592.16" cy="194.45" r="2.8"/><circle cx="594.53" cy="165.18" r="2.8"/><circle cx="596.89" cy="182.25" r="2.8"/><circle cx="599.26" cy="170.04" r="2.8"/><circle cx="601.62" cy="169.75" r="2.8"/></g>
<g fill="#1b71b8"><circle cx="128.82" cy="573.72" r="2.8"/><circle cx="131.18" cy="584.18" r="2.8"/><circle cx="133.55" cy="573.45" r="2.8"/><circle cx="135.91" cy="593.44" r="2.8"/><circle cx="138.28" cy="568.15" r="2.8"/><circle cx="140.64" cy="587.16" r="2.8"/><circle cx="143" cy="572.47" r="2.8"/><circle cx="145.37" cy="569.93" r="2.8"/><circle cx="147.73" cy="581.67" r="2.8"/><circle cx="150.1" cy="595.51" r="2.8"/><circle cx="152.46" cy="584.99" r="2.8"/><circle cx="154.82" cy="577.3" r="2.8"/><circle cx="157.19" cy="569.21" r="2.8"/><circle cx="159.55" cy="588.24" r="2.8"/><circle cx="161.92" cy="584.39" r="2.8"/><circle cx="164.28" cy="579.74" r="2.8"/><circle cx="166.64" cy="581.57" r="2.8"/><circle cx="169.01" cy="587.05" r="2.8"/><circle cx="171.37" cy="585" r="2.8"/><circle cx="173.74" cy="561.51" r="2.8"/><circle cx="176.1" cy="581.59" r="2.8"/><circle cx="178.46" cy="583.47" r="2.8"/><circle cx="180.83" cy="587.29" r="2.8"/><circle cx="183.19" cy="584.74" r="2.8"/><circle cx="185.56" cy="588.21" r="2.8"/><circle cx="187.92" cy="579.9" r="2.8"/><circle cx="190.28" cy="568.91" r="2.8"/><circle cx="192.65" cy="560.15" r="2.8"/><circle cx="195.01" cy="543.31" r="2.8"/><circle cx="197.38" cy="513.88" r="2.8"/><circle cx="199.74" cy="482.14" r="2.8"/><circle cx="202.1" cy="480.06" r="2.8"/><circle cx="204.47" cy="484.98" r="2.8"/><circle cx="206.83" cy="469.99" r="2.8"/><circle cx="209.2" cy="435.2" r="2.8"/><circle cx="211.56" cy="437.17" r="2.8"/><circle cx="213.92" cy="433.59" r="2.8"/><circle cx="216.29" cy="426.6" r="2.8"/><circle cx="218.65" cy="408.76" r="2.8"/><circle cx="221.02" cy="379.41" r="2.8"/><circle cx="223.38" cy="374.45" r="2.8"/><circle cx="225.74" cy="370.11" r="2.8"/><circle cx="228.11" cy="352.66" r="2.8"/><circle cx="230.47" cy="354.24" r="2.8"/><circle cx="232.84" cy="325.01" r="2.8"/><circle cx="235.2" cy="318.81" r="2.8"/><circle cx="237.56" cy="304.34" r="2.8"/><circle cx="239.93" cy="308.37" r="2.8"/><circle cx="242.29" cy="285.11" r="2.8"/><circle cx="244.66" cy="298.45" r="2.8"/><circle cx="247.02" cy="269.93" r="2.8"/><circle cx="249.38" cy="260.38" r="2.8"/><circle cx="251.75" cy="264.98" r="2.8"/><circle cx="254.11" cy="245.31" r="2.8"/><circle cx="256.48" cy="234.01" r="2.8"/><circle cx="258.84" cy="258.72" r="2.8"/><circle cx="261.2" cy="249.98" r="2.8"/><circle cx="263.57" cy="249.72" r="2.8"/><circle cx="265.93" cy="223.54" r="2.8"/><circle cx="268.3" cy="232.69" r="2.8"/><circle cx="270.66" cy="237.47" r="2.8"/><circle cx="273.02" cy="215.64" r="2.8"/><circle cx="275.39" cy="223.25" r="2.8"/><circle cx="277.75" cy="185.95" r="2.8"/><circle cx="280.12" cy="202.53" r="2.8"/><circle cx="282.48" cy="190.83" r="2.8"/><circle cx="284.84" cy="202.06" r="2.8"/><circle cx="287.21" cy="202.05" r="2.8"/><circle cx="289.57" cy="180.05" r="2.8"/><circle cx="291.94" cy="171.13" r="2.8"/><circle cx="294.3" cy="185.7" r="2.8"/><circle cx="296.66" cy="186.2" r="2.8"/><circle cx="299.03" cy="173.48" r="2.8"/><circle cx="301.39" cy="160.82" r="2.8"/><circle cx="303.76" cy="170.83" r="2.8"/><circle cx="306.12" cy="146.45" r="2.8"/><circle cx="308.48" cy="154.02" r="2.8"/><circle cx="310.85" cy="143.08" r="2.8"/><circle cx="313.21" cy="164.67" r="2.8"/><circle cx="315.58" cy="166.58" r="2.8"/><circle cx="317.94" cy="159.85" r="2.8"/><circle cx="320.3" cy="152.12" r="2.8"/><circle cx="322.67" cy="131.58" r="2.8"/><circle cx="325.03" cy="137.94" r="2.8"/><circle cx="327.4" cy="138.53" r="2.8"/><circle cx="329.76" cy="150.8" r="2.8"/><circle cx="332.12" cy="132.85" r="2.8"/><circle cx="334.49" cy="137.92" r="2.8"/><circle cx="336.85" cy="131.27" r="2.8"/><circle cx="339.22" cy="136.11" r="2.8"/><circle cx="341.58" cy="142.32" r="2.8"/><circle cx="343.94" cy="127.86" r="2.8"/><circle cx="346.31" cy="117.87" r="2.8"/><circle cx="348.67" cy="131.72" r="2.8"/><circle cx="351.04" cy="119.34" r="2.8"/><circle cx="353.4" cy="101.42" r="2.8"/><circle cx="355.76" cy="111.69" r="2.8"/><circle cx="358.13" cy="104.79" r="2.8"/><circle cx="360.49" cy="122.34" r="2.8"/><circle cx="362.86" cy="110.43" r="2.8"/><circle cx="365.22" cy="125.08" r="2.8"/><circle cx="367.58" cy="113.14" r="2.8"/><circle cx="369.95" cy="121.79" r="2.8"/><circle cx="372.31" cy="113.99" r="2.8"/><circle cx="374.68" cy="126.55" r="2.8"/><circle cx="377.04" cy="107.84" r="2.8"/><circle cx="379.4" cy="113.73" r="2.8"/><circle cx="381.77" cy="108.67" r="2.8"/><circle cx="384.13" cy="114.59" r="2.8"/><circle cx="386.5" cy="134" r="2.8"/><circle cx="388.86" cy="113.9" r="2.8"/><circle cx="391.22" cy="99.06" r="2.8"/><circle cx="393.59" cy="106.32" r="2.8"/><circle cx="395.95" cy="108.56" r="2.8"/><circle cx="398.32" cy="96.02" r="2.8"/><circle cx="400.68" cy="83.48" r="2.8"/><circle cx="403.04" cy="95.12" r="2.8"/><circle cx="405.41" cy="98.95" r="2.8"/><circle cx="407.77" cy="112.53" r="2.8"/><circle cx="410.14" cy="110.94" r="2.8"/><circle cx="412.5" cy="90.54" r="2.8"/><circle cx="414.86" cy="98.58" r="2.8"/><circle cx="417.23" cy="99.92" r="2.8"/><circle cx="419.59" cy="92.87" r="2.8"/><circle cx="421.96" cy="105.24" r="2.8"/><circle cx="424.32" cy="124.24" r="2.8"/><circle cx="426.68" cy="98.71" r="2.8"/><circle cx="429.05" cy="86.62" r="2.8"/><circle cx="431.41" cy="99.92" r="2.8"/><circle cx="433.78" cy="95.43" r="2.8"/><circle cx="436.14" cy="88.89" r="2.8"/><circle cx="438.5" cy="77.05" r="2.8"/><circle cx="440.87" cy="107.46" r="2.8"/><circle cx="443.23" cy="89.69" r="2.8"/><circle cx="445.6" cy="77.05" r="2.8"/><circle cx="447.96" cy="103.29" r="2.8"/><circle cx="450.32" cy="86.09" r="2.8"/><circle cx="452.69" cy="85.05" r="2.8"/><circle cx="455.05" cy="75.78" r="2.8"/><circle cx="457.42" cy="87.74" r="2.8"/><circle cx="459.78" cy="94.88" r="2.8"/><circle cx="462.14" cy="99.13" r="2.8"/><circle cx="464.51" cy="99.37" r="2.8"/><circle cx="466.87" cy="91.52" r="2.8"/><circle cx="469.24" cy="96.15" r="2.8"/><circle cx="471.6" cy="80.13" r="2.8"/><circle cx="473.96" cy="82.82" r="2.8"/><circle cx="476.33" cy="102.09" r="2.8"/><circle cx="478.69" cy="71.93" r="2.8"/><circle cx="481.06" cy="81.4" r="2.8"/><circle cx="483.42" cy="105.08" r="2.8"/><circle cx="485.78" cy="81.7" r="2.8"/><circle cx="488.15" cy="80.11" r="2.8"/><circle cx="490.51" cy="81.6" r="2.8"/><circle cx="492.88" cy="96.58" r="2.8"/><circle cx="495.24" cy="85.37" r="2.8"/><circle cx="497.6" cy="88.3" r="2.8"/><circle cx="499.97" cy="97.7" r="2.8"/><circle cx="502.33" cy="75.94" r="2.8"/><circle cx="504.7" cy="89.33" r="2.8"/><circle cx="507.06" cy="85.08" r="2.8"/><circle cx="509.42" cy="89.91" r="2.8"/><circle cx="511.79" cy="75.54" r="2.8"/><circle cx="514.15" cy="88.56" r="2.8"/><circle cx="516.52" cy="101.03" r="2.8"/><circle cx="518.88" cy="102.61" r="2.8"/><circle cx="521.24" cy="109.75" r="2.8"/><circle cx="523.61" cy="97.3" r="2.8"/><circle cx="525.97" cy="94.84" r="2.8"/><circle cx="528.34" cy="98.32" r="2.8"/><circle cx="530.7" cy="67.41" r="2.8"/><circle cx="533.06" cy="94.78" r="2.8"/><circle cx="535.43" cy="97.88" r="2.8"/><circle cx="537.79" cy="93.32" r="2.8"/><circle cx="540.16" cy="93.87" r="2.8"/><circle cx="542.52" cy="78.81" r="2.8"/><circle cx="544.88" cy="91.4" r="2.8"/><circle cx="547.25" cy="103.05" r="2.8"/><circle cx="549.61" cy="92.39" r="2.8"/><circle cx="551.98" cy="76.16" r="2.8"/><circle cx="554.34" cy="85.91" r="2.8"/><circle cx="556.7" cy="91.67" r="2.8"/><circle cx="559.07" cy="81.95" r="2.8"/><circle cx="561.43" cy="88.33" r="2.8"/><circle cx="563.8" cy="94.09" r="2.8"/><circle cx="566.16" cy="93.67" r="2.8"/><circle cx="568.52" cy="72.22" r="2.8"/><circle cx="570.89" cy="89.44" r="2.8"/><circle cx="573.25" cy="81" r="2.8"/><circle cx="575.62" cy="96.14" r="2.8"/><circle cx="577.98" cy="91.6" r="2.8"/><circle cx="580.34" cy="64.26" r="2.8"/><circle cx="582.71" cy="108.58" r="2.8"/><circle cx="585.07" cy="77.85" r="2.8"/><circle cx="587.44" cy="86.95" r="2.8"/><circle cx="589.8" cy="89.37" r="2.8"/><circle cx="592.16" cy="99.9" r="2.8"/><circle cx="594.53" cy="78.01" r="2.8"/><circle cx="596.89" cy="94.73" r="2.8"/><circle cx="599.26" cy="83.51" r="2.8"/><circle cx="601.62" cy="76.98" r="2.8"/></g>
<g fill="#1f2f6c"><circle cx="128.82" cy="587.37" r="2.8"/><circle cx="131.18" cy="593.73" r="2.8"/><circle cx="133.55" cy="581.88" r="2.8"/><circle cx="135.91" cy="591.86" r="2.8"/><circle cx="138.28" cy="583.58" r="2.8"/><circle cx="140.64" cy="567.14" r="2.8"/><circle cx="143" cy="570.37" r="2.8"/><circle cx="145.37" cy="571.31" r="2.8"/><circle cx="147.73" cy="596.14" r="2.8"/><circle cx="150.1" cy="587.05" r="2.8"/><circle cx="152.46" cy="580.36" r="2.8"/><circle cx="154.82" cy="585.79" r="2.8"/><circle cx="157.19" cy="578.16" r="2.8"/><circle cx="159.55" cy="592.02" r="2.8"/><circle cx="161.92" cy="584.77" r="2.8"/><circle cx="164.28" cy="579.42" r="2.8"/><circle cx="166.64" cy="580.55" r="2.8"/><circle cx="169.01" cy="578.31" r="2.8"/><circle cx="171.37" cy="584.05" r="2.8"/><circle cx="173.74" cy="587.09" r="2.8"/><circle cx="176.1" cy="584.98" r="2.8"/><circle cx="178.46" cy="575.83" r="2.8"/><circle cx="180.83" cy="578.38" r="2.8"/><circle cx="183.19" cy="569.47" r="2.8"/><circle cx="185.56" cy="581.89" r="2.8"/><circle cx="187.92" cy="589.37" r="2.8"/><circle cx="190.28" cy="568.29" r="2.8"/><circle cx="192.65" cy="541.47" r="2.8"/><circle cx="195.01" cy="530.51" r="2.8"/><circle cx="197.38" cy="504.98" r="2.8"/><circle cx="199.74" cy="479.49" r="2.8"/><circle cx="202.1" cy="476.3" r="2.8"/><circle cx="204.47" cy="471.52" r="2.8"/><circle cx="206.83" cy="434.33" r="2.8"/><circle cx="209.2" cy="423.67" r="2.8"/><circle cx="211.56" cy="414.07" r="2.8"/><circle cx="213.92" cy="384.89" r="2.8"/><circle cx="216.29" cy="370.73" r="2.8"/><circle cx="218.65" cy="334.48" r="2.8"/><circle cx="221.02" cy="338.9" r="2.8"/><circle cx="223.38" cy="336.32" r="2.8"/><circle cx="225.74" cy="326.05" r="2.8"/><circle cx="228.11" cy="350.84" r="2.8"/><circle cx="230.47" cy="299.41" r="2.8"/><circle cx="232.84" cy="287.27" r="2.8"/><circle cx="235.2" cy="287.78" r="2.8"/><circle cx="237.56" cy="281.8" r="2.8"/><circle cx="239.93" cy="268.45" r="2.8"/><circle cx="242.29" cy="237.6" r="2.8"/><circle cx="244.66" cy="246.39" r="2.8"/><circle cx="247.02" cy="237.1" r="2.8"/><circle cx="249.38" cy="242.23" r="2.8"/><circle cx="251.75" cy="220.24" r="2.8"/><circle cx="254.11" cy="222.34" r="2.8"/><circle cx="256.48" cy="217.24" r="2.8"/><circle cx="258.84" cy="193.17" r="2.8"/><circle cx="261.2" cy="207.16" r="2.8"/><circle cx="263.57" cy="201.93" r="2.8"/><circle cx="265.93" cy="203.96" r="2.8"/><circle cx="268.3" cy="190.94" r="2.8"/><circle cx="270.66" cy="171.3" r="2.8"/><circle cx="273.02" cy="180.41" r="2.8"/><circle cx="275.39" cy="163.92" r="2.8"/><circle cx="277.75" cy="162.42" r="2.8"/><circle cx="280.12" cy="172.68" r="2.8"/><circle cx="282.48" cy="181.03" r="2.8"/><circle cx="284.84" cy="133.06" r="2.8"/><circle cx="287.21" cy="159.44" r="2.8"/><circle cx="289.57" cy="155.6" r="2.8"/><circle cx="291.94" cy="163.79" r="2.8"/><circle cx="294.3" cy="137.64" r="2.8"/><circle cx="296.66" cy="134.32" r="2.8"/><circle cx="299.03" cy="137.45" r="2.8"/><circle cx="301.39" cy="146.22" r="2.8"/><circle cx="303.76" cy="157.26" r="2.8"/><circle cx="306.12" cy="153.33" r="2.8"/><circle cx="308.48" cy="143.71" r="2.8"/><circle cx="310.85" cy="139.66" r="2.8"/><circle cx="313.21" cy="123.71" r="2.8"/><circle cx="315.58" cy="118.08" r="2.8"/><circle cx="317.94" cy="131.55" r="2.8"/><circle cx="320.3" cy="118.74" r="2.8"/><circle cx="322.67" cy="126.23" r="2.8"/><circle cx="325.03" cy="120.85" r="2.8"/><circle cx="327.4" cy="109.03" r="2.8"/><circle cx="329.76" cy="119.85" r="2.8"/><circle cx="332.12" cy="113.89" r="2.8"/><circle cx="334.49" cy="108.04" r="2.8"/><circle cx="336.85" cy="101.3" r="2.8"/><circle cx="339.22" cy="117.13" r="2.8"/><circle cx="341.58" cy="104.25" r="2.8"/><circle cx="343.94" cy="139.11" r="2.8"/><circle cx="346.31" cy="92.01" r="2.8"/><circle cx="348.67" cy="112.43" r="2.8"/><circle cx="351.04" cy="122.07" r="2.8"/><circle cx="353.4" cy="97.35" r="2.8"/><circle cx="355.76" cy="88.74" r="2.8"/><circle cx="358.13" cy="82.85" r="2.8"/><circle cx="360.49" cy="89.9" r="2.8"/><circle cx="362.86" cy="102.7" r="2.8"/><circle cx="365.22" cy="88.97" r="2.8"/><circle cx="367.58" cy="87.92" r="2.8"/><circle cx="369.95" cy="93.49" r="2.8"/><circle cx="372.31" cy="94.48" r="2.8"/><circle cx="374.68" cy="81.53" r="2.8"/><circle cx="377.04" cy="76.18" r="2.8"/><circle cx="379.4" cy="99.92" r="2.8"/><circle cx="381.77" cy="92.21" r="2.8"/><circle cx="384.13" cy="79.63" r="2.8"/><circle cx="386.5" cy="74.52" r="2.8"/><circle cx="388.86" cy="67.23" r="2.8"/><circle cx="391.22" cy="101.09" r="2.8"/><circle cx="393.59" cy="73.24" r="2.8"/><circle cx="395.95" cy="91.88" r="2.8"/><circle cx="398.32" cy="111.82" r="2.8"/><circle cx="400.68" cy="76.89" r="2.8"/><circle cx="403.04" cy="85.16" r="2.8"/><circle cx="405.41" cy="89.6" r="2.8"/><circle cx="407.77" cy="82.51" r="2.8"/><circle cx="410.14" cy="77.82" r="2.8"/><circle cx="412.5" cy="91.76" r="2.8"/><circle cx="414.86" cy="82.82" r="2.8"/><circle cx="417.23" cy="97.98" r="2.8"/><circle cx="419.59" cy="73.23" r="2.8"/><circle cx="421.96" cy="79.82" r="2.8"/><circle cx="424.32" cy="83.16" r="2.8"/><circle cx="426.68" cy="79.85" r="2.8"/><circle cx="429.05" cy="73.92" r="2.8"/><circle cx="431.41" cy="70.16" r="2.8"/><circle cx="433.78" cy="72.71" r="2.8"/><circle cx="436.14" cy="80.2" r="2.8"/><circle cx="438.5" cy="94.64" r="2.8"/><circle cx="440.87" cy="75.17" r="2.8"/><circle cx="443.23" cy="69.81" r="2.8"/><circle cx="445.6" cy="67.87" r="2.8"/><circle cx="447.96" cy="82.36" r="2.8"/><circle cx="450.32" cy="62.68" r="2.8"/><circle cx="452.69" cy="84.05" r="2.8"/><circle cx="455.05" cy="86.22" r="2.8"/><circle cx="457.42" cy="77.91" r="2.8"/><circle cx="459.78" cy="71.47" r="2.8"/><circle cx="462.14" cy="82.91" r="2.8"/><circle cx="464.51" cy="91.39" r="2.8"/><circle cx="466.87" cy="97.25" r="2.8"/><circle cx="469.24" cy="64.86" r="2.8"/><circle cx="471.6" cy="78.29" r="2.8"/><circle cx="473.96" cy="70.22" r="2.8"/><circle cx="476.33" cy="83.95" r="2.8"/><circle cx="478.69" cy="72.8" r="2.8"/><circle cx="481.06" cy="76.82" r="2.8"/><circle cx="483.42" cy="78.54" r="2.8"/><circle cx="485.78" cy="89.16" r="2.8"/><circle cx="488.15" cy="89.78" r="2.8"/><circle cx="490.51" cy="67.7" r="2.8"/><circle cx="492.88" cy="107.83" r="2.8"/><circle cx="495.24" cy="83.82" r="2.8"/><circle cx="497.6" cy="62.46" r="2.8"/><circle cx="499.97" cy="71.66" r="2.8"/><circle cx="502.33" cy="82.43" r="2.8"/><circle cx="504.7" cy="84.79" r="2.8"/><circle cx="507.06" cy="94.12" r="2.8"/><circle cx="509.42" cy="56.3" r="2.8"/><circle cx="511.79" cy="84.7" r="2.8"/><circle cx="514.15" cy="76.69" r="2.8"/><circle cx="516.52" cy="62.13" r="2.8"/><circle cx="518.88" cy="67.97" r="2.8"/><circle cx="521.24" cy="71.65" r="2.8"/><circle cx="523.61" cy="81.19" r="2.8"/><circle cx="525.97" cy="75.5" r="2.8"/><circle cx="528.34" cy="85.53" r="2.8"/><circle cx="530.7" cy="71.12" r="2.8"/><circle cx="533.06" cy="87.13" r="2.8"/><circle cx="535.43" cy="77.69" r="2.8"/><circle cx="537.79" cy="71.53" r="2.8"/><circle cx="540.16" cy="68.07" r="2.8"/><circle cx="542.52" cy="84.56" r="2.8"/><circle cx="544.88" cy="76.65" r="2.8"/><circle cx="547.25" cy="81.98" r="2.8"/><circle cx="549.61" cy="84.94" r="2.8"/><circle cx="551.98" cy="68.93" r="2.8"/><circle cx="554.34" cy="71.85" r="2.8"/><circle cx="556.7" cy="83.34" r="2.8"/><circle cx="559.07" cy="74.5" r="2.8"/><circle cx="561.43" cy="92.93" r="2.8"/><circle cx="563.8" cy="86.31" r="2.8"/><circle cx="566.16" cy="94.22" r="2.8"/><circle cx="568.52" cy="83.28" r="2.8"/><circle cx="570.89" cy="66.2" r="2.8"/><circle cx="573.25" cy="75.79" r="2.8"/><circle cx="575.62" cy="80.12" r="2.8"/><circle cx="577.98" cy="74.3" r="2.8"/><circle cx="580.34" cy="80.54" r="2.8"/><circle cx="582.71" cy="75.2" r="2.8"/><circle cx="585.07" cy="92.49" r="2.8"/><circle cx="587.44" cy="76.91" r="2.8"/><circle cx="589.8" cy="87.25" r="2.8"/><circle cx="592.16" cy="75.35" r="2.8"/><circle cx="594.53" cy="77.35" r="2.8"/><circle cx="596.89" cy="74.8" r="2.8"/><circle cx="599.26" cy="91.05" r="2.8"/><circle cx="601.62" cy="57.54" r="2.8"/></g>
<path d="M128.32 585.2 L186.5 585.2 L186.5 585.2 L188.86 581.57 L191.23 578.09 L193.59 574.76 L195.96 571.56 L198.32 568.5 L200.68 565.56 L203.05 562.74 L205.41 560.03 L207.78 557.44 L210.14 554.95 L212.5 552.56 L214.87 550.27 L217.23 548.07 L219.6 545.96 L221.96 543.93 L224.32 541.98 L226.69 540.12 L229.05 538.32 L231.42 536.6 L233.78 534.94 L236.14 533.35 L238.51 531.82 L240.87 530.35 L243.24 528.94 L245.6 527.58 L247.96 526.27 L250.33 525.01 L252.69 523.81 L255.06 522.64 L257.42 521.52 L259.78 520.45 L262.15 519.41 L264.51 518.41 L266.88 517.45 L269.24 516.53 L271.6 515.63 L273.97 514.78 L276.33 513.95 L278.7 513.15 L281.06 512.38 L283.42 511.64 L285.79 510.92 L288.15 510.23 L290.52 509.56 L292.88 508.92 L295.24 508.3 L297.61 507.7 L299.97 507.12 L302.34 506.56 L304.7 506.02 L307.06 505.5 L309.43 504.99 L311.79 504.51 L314.16 504.03 L316.52 503.58 L318.88 503.13 L321.25 502.71 L323.61 502.29 L325.98 501.89 L328.34 501.5 L330.7 501.12 L333.07 500.76 L335.43 500.4 L337.8 500.06 L340.16 499.73 L342.52 499.4 L344.89 499.09 L347.25 498.79 L349.62 498.49 L351.98 498.2 L354.34 497.93 L356.71 497.65 L359.07 497.39 L361.44 497.13 L363.8 496.89 L366.16 496.64 L368.53 496.41 L370.89 496.18 L373.26 495.96 L375.62 495.74 L377.98 495.53 L380.35 495.32 L382.71 495.12 L385.08 494.92 L387.44 494.73 L389.8 494.55 L392.17 494.36 L394.53 494.19 L396.9 494.01 L399.26 493.85 L401.62 493.68 L403.99 493.52 L406.35 493.36 L408.72 493.21 L411.08 493.06 L413.44 492.91 L415.81 492.77 L418.17 492.63 L420.54 492.49 L422.9 492.36 L425.26 492.23 L427.63 492.1 L429.99 491.97 L432.36 491.85 L434.72 491.73 L437.08 491.61 L439.45 491.49 L441.81 491.38 L444.18 491.27 L446.54 491.16 L448.9 491.05 L451.27 490.95 L453.63 490.85 L456 490.75 L458.36 490.65 L460.72 490.55 L463.09 490.46 L465.45 490.36 L467.82 490.27 L470.18 490.18 L472.54 490.09 L474.91 490.01 L477.27 489.92 L479.64 489.84 L482 489.76 L484.36 489.68 L486.73 489.6 L489.09 489.52 L491.46 489.44 L493.82 489.37 L496.18 489.29 L498.55 489.22 L500.91 489.15 L503.28 489.08 L505.64 489.01 L508 488.94 L510.37 488.88 L512.73 488.81 L515.1 488.75 L517.46 488.68 L519.82 488.62 L522.19 488.56 L524.55 488.5 L526.92 488.44 L529.28 488.38 L531.64 488.32 L534.01 488.26 L536.37 488.21 L538.74 488.15 L541.1 488.1 L543.46 488.05 L545.83 487.99 L548.19 487.94 L550.56 487.89 L552.92 487.84 L555.28 487.79 L557.65 487.74 L560.01 487.69 L562.38 487.65 L564.74 487.6 L567.1 487.55 L569.47 487.51 L571.83 487.46 L574.2 487.42 L576.56 487.38 L578.92 487.33 L581.29 487.29 L583.65 487.25 L586.02 487.21 L588.38 487.17 L590.74 487.13 L593.11 487.09 L595.47 487.05 L597.84 487.01 L600.2 486.98 L601.5 486.95" stroke="#d4e5f5" stroke-width="4.4" fill="none" stroke-linejoin="round"/>
<path d="M128.32 585.2 L189.56 585.2 L189.56 585.2 L191.92 576.97 L194.28 569.04 L196.65 561.37 L199.01 553.98 L201.38 546.85 L203.74 539.96 L206.1 533.31 L208.47 526.9 L210.83 520.71 L213.2 514.74 L215.56 508.97 L217.92 503.41 L220.29 498.04 L222.65 492.86 L225.02 487.85 L227.38 483.03 L229.74 478.37 L232.11 473.87 L234.47 469.54 L236.84 465.35 L239.2 461.31 L241.56 457.41 L243.93 453.65 L246.29 450.01 L248.66 446.51 L251.02 443.13 L253.38 439.86 L255.75 436.71 L258.11 433.67 L260.48 430.74 L262.84 427.9 L265.2 425.17 L267.57 422.53 L269.93 419.99 L272.3 417.53 L274.66 415.16 L277.02 412.87 L279.39 410.66 L281.75 408.53 L284.12 406.48 L286.48 404.49 L288.84 402.57 L291.21 400.73 L293.57 398.94 L295.94 397.22 L298.3 395.56 L300.66 393.95 L303.03 392.41 L305.39 390.91 L307.76 389.47 L310.12 388.08 L312.48 386.74 L314.85 385.44 L317.21 384.19 L319.58 382.98 L321.94 381.82 L324.3 380.7 L326.67 379.61 L329.03 378.56 L331.4 377.55 L333.76 376.58 L336.12 375.64 L338.49 374.73 L340.85 373.85 L343.22 373.01 L345.58 372.19 L347.94 371.4 L350.31 370.64 L352.67 369.91 L355.04 369.2 L357.4 368.52 L359.76 367.86 L362.13 367.22 L364.49 366.61 L366.86 366.01 L369.22 365.44 L371.58 364.89 L373.95 364.36 L376.31 363.84 L378.68 363.35 L381.04 362.87 L383.4 362.41 L385.77 361.96 L388.13 361.53 L390.5 361.11 L392.86 360.71 L395.22 360.33 L397.59 359.95 L399.95 359.59 L402.32 359.24 L404.68 358.91 L407.04 358.58 L409.41 358.27 L411.77 357.97 L414.14 357.68 L416.5 357.4 L418.86 357.13 L421.23 356.86 L423.59 356.61 L425.96 356.37 L428.32 356.13 L430.68 355.91 L433.05 355.69 L435.41 355.48 L437.78 355.27 L440.14 355.07 L442.5 354.88 L444.87 354.7 L447.23 354.52 L449.6 354.35 L451.96 354.19 L454.32 354.03 L456.69 353.88 L459.05 353.73 L461.42 353.58 L463.78 353.45 L466.14 353.31 L468.51 353.18 L470.87 353.06 L473.24 352.94 L475.6 352.82 L477.96 352.71 L480.33 352.61 L482.69 352.5 L485.06 352.4 L487.42 352.3 L489.78 352.21 L492.15 352.12 L494.51 352.03 L496.88 351.95 L499.24 351.87 L501.6 351.79 L503.97 351.72 L506.33 351.64 L508.7 351.57 L511.06 351.5 L513.42 351.44 L515.79 351.38 L518.15 351.31 L520.52 351.26 L522.88 351.2 L525.24 351.14 L527.61 351.09 L529.97 351.04 L532.34 350.99 L534.7 350.94 L537.06 350.9 L539.43 350.85 L541.79 350.81 L544.16 350.77 L546.52 350.73 L548.88 350.69 L551.25 350.65 L553.61 350.62 L555.98 350.58 L558.34 350.55 L560.7 350.52 L563.07 350.49 L565.43 350.46 L567.8 350.43 L570.16 350.4 L572.52 350.37 L574.89 350.35 L577.25 350.32 L579.62 350.3 L581.98 350.28 L584.34 350.25 L586.71 350.23 L589.07 350.21 L591.44 350.19 L593.8 350.17 L596.16 350.15 L598.53 350.13 L600.89 350.12 L601.5 350.11" stroke="#c2dbf0" stroke-width="4.4" fill="none" stroke-linejoin="round"/>
<path d="M128.32 585.2 L186.5 585.2 L186.5 585.2 L188.86 576.99 L191.23 569.04 L193.59 561.33 L195.96 553.85 L198.32 546.6 L200.68 539.57 L203.05 532.75 L205.41 526.15 L207.78 519.74 L210.14 513.53 L212.5 507.51 L214.87 501.67 L217.23 496.01 L219.6 490.52 L221.96 485.21 L224.32 480.05 L226.69 475.05 L229.05 470.2 L231.42 465.5 L233.78 460.94 L236.14 456.52 L238.51 452.24 L240.87 448.09 L243.24 444.06 L245.6 440.16 L247.96 436.37 L250.33 432.71 L252.69 429.15 L255.06 425.7 L257.42 422.36 L259.78 419.11 L262.15 415.97 L264.51 412.92 L266.88 409.97 L269.24 407.11 L271.6 404.33 L273.97 401.64 L276.33 399.03 L278.7 396.5 L281.06 394.04 L283.42 391.67 L285.79 389.36 L288.15 387.12 L290.52 384.96 L292.88 382.85 L295.24 380.82 L297.61 378.84 L299.97 376.93 L302.34 375.07 L304.7 373.27 L307.06 371.52 L309.43 369.83 L311.79 368.19 L314.16 366.6 L316.52 365.06 L318.88 363.56 L321.25 362.12 L323.61 360.71 L325.98 359.35 L328.34 358.03 L330.7 356.75 L333.07 355.5 L335.43 354.3 L337.8 353.13 L340.16 352 L342.52 350.91 L344.89 349.84 L347.25 348.81 L349.62 347.81 L351.98 346.84 L354.34 345.9 L356.71 344.99 L359.07 344.11 L361.44 343.25 L363.8 342.42 L366.16 341.62 L368.53 340.84 L370.89 340.08 L373.26 339.35 L375.62 338.64 L377.98 337.95 L380.35 337.28 L382.71 336.63 L385.08 336 L387.44 335.39 L389.8 334.8 L392.17 334.23 L394.53 333.67 L396.9 333.14 L399.26 332.61 L401.62 332.11 L403.99 331.62 L406.35 331.14 L408.72 330.68 L411.08 330.23 L413.44 329.8 L415.81 329.38 L418.17 328.97 L420.54 328.58 L422.9 328.2 L425.26 327.82 L427.63 327.46 L429.99 327.12 L432.36 326.78 L434.72 326.45 L437.08 326.13 L439.45 325.82 L441.81 325.52 L444.18 325.23 L446.54 324.95 L448.9 324.68 L451.27 324.42 L453.63 324.16 L456 323.91 L458.36 323.67 L460.72 323.44 L463.09 323.21 L465.45 322.99 L467.82 322.78 L470.18 322.58 L472.54 322.38 L474.91 322.18 L477.27 321.99 L479.64 321.81 L482 321.64 L484.36 321.46 L486.73 321.3 L489.09 321.14 L491.46 320.98 L493.82 320.83 L496.18 320.68 L498.55 320.54 L500.91 320.4 L503.28 320.27 L505.64 320.14 L508 320.01 L510.37 319.89 L512.73 319.77 L515.1 319.66 L517.46 319.55 L519.82 319.44 L522.19 319.34 L524.55 319.24 L526.92 319.14 L529.28 319.04 L531.64 318.95 L534.01 318.86 L536.37 318.77 L538.74 318.69 L541.1 318.61 L543.46 318.53 L545.83 318.45 L548.19 318.38 L550.56 318.31 L552.92 318.24 L555.28 318.17 L557.65 318.11 L560.01 318.04 L562.38 317.98 L564.74 317.92 L567.1 317.86 L569.47 317.81 L571.83 317.75 L574.2 317.7 L576.56 317.65 L578.92 317.6 L581.29 317.55 L583.65 317.5 L586.02 317.46 L588.38 317.41 L590.74 317.37 L593.11 317.33 L595.47 317.29 L597.84 317.25 L600.2 317.21 L601.5 317.18" stroke="#9dcae4" stroke-width="4.4" fill="none" stroke-linejoin="round"/>
<path d="M128.32 585.2 L192 585.2 L192 585.2 L194.36 568.15 L196.73 551.8 L199.09 536.12 L201.46 521.08 L203.82 506.66 L206.18 492.83 L208.55 479.57 L210.91 466.86 L213.28 454.67 L215.64 442.97 L218 431.76 L220.37 421 L222.73 410.69 L225.1 400.8 L227.46 391.32 L229.82 382.22 L232.19 373.5 L234.55 365.14 L236.92 357.12 L239.28 349.42 L241.64 342.05 L244.01 334.97 L246.37 328.19 L248.74 321.68 L251.1 315.44 L253.46 309.46 L255.83 303.72 L258.19 298.22 L260.56 292.94 L262.92 287.88 L265.28 283.03 L267.65 278.37 L270.01 273.91 L272.38 269.62 L274.74 265.52 L277.1 261.58 L279.47 257.8 L281.83 254.18 L284.2 250.7 L286.56 247.37 L288.92 244.18 L291.29 241.11 L293.65 238.17 L296.02 235.35 L298.38 232.65 L300.74 230.05 L303.11 227.56 L305.47 225.18 L307.84 222.89 L310.2 220.69 L312.56 218.59 L314.93 216.57 L317.29 214.63 L319.66 212.77 L322.02 210.99 L324.38 209.28 L326.75 207.64 L329.11 206.07 L331.48 204.56 L333.84 203.11 L336.2 201.72 L338.57 200.39 L340.93 199.11 L343.3 197.88 L345.66 196.71 L348.02 195.58 L350.39 194.5 L352.75 193.46 L355.12 192.46 L357.48 191.5 L359.84 190.59 L362.21 189.71 L364.57 188.86 L366.94 188.05 L369.3 187.27 L371.66 186.53 L374.03 185.81 L376.39 185.12 L378.76 184.46 L381.12 183.83 L383.48 183.22 L385.85 182.64 L388.21 182.08 L390.58 181.54 L392.94 181.03 L395.3 180.53 L397.67 180.06 L400.03 179.6 L402.4 179.16 L404.76 178.74 L407.12 178.34 L409.49 177.95 L411.85 177.58 L414.22 177.22 L416.58 176.88 L418.94 176.55 L421.31 176.23 L423.67 175.93 L426.04 175.64 L428.4 175.36 L430.76 175.09 L433.13 174.83 L435.49 174.58 L437.86 174.34 L440.22 174.11 L442.58 173.89 L444.95 173.68 L447.31 173.47 L449.68 173.28 L452.04 173.09 L454.4 172.91 L456.77 172.74 L459.13 172.57 L461.5 172.41 L463.86 172.25 L466.22 172.1 L468.59 171.96 L470.95 171.82 L473.32 171.69 L475.68 171.56 L478.04 171.44 L480.41 171.32 L482.77 171.21 L485.14 171.1 L487.5 170.99 L489.86 170.89 L492.23 170.79 L494.59 170.7 L496.96 170.61 L499.32 170.52 L501.68 170.44 L504.05 170.36 L506.41 170.28 L508.78 170.2 L511.14 170.13 L513.5 170.06 L515.87 169.99 L518.23 169.92 L520.6 169.86 L522.96 169.8 L525.32 169.74 L527.69 169.68 L530.05 169.63 L532.42 169.58 L534.78 169.53 L537.14 169.48 L539.51 169.43 L541.87 169.38 L544.24 169.34 L546.6 169.29 L548.96 169.25 L551.33 169.21 L553.69 169.17 L556.06 169.13 L558.42 169.1 L560.78 169.06 L563.15 169.02 L565.51 168.99 L567.88 168.96 L570.24 168.93 L572.6 168.9 L574.97 168.87 L577.33 168.84 L579.7 168.81 L582.06 168.78 L584.42 168.75 L586.79 168.73 L589.15 168.7 L591.52 168.68 L593.88 168.65 L596.24 168.63 L598.61 168.61 L600.97 168.58 L601.5 168.57" stroke="#6aaed9" stroke-width="4.4" fill="none" stroke-linejoin="round"/>
<path d="M128.32 585.2 L189.8 585.2 L189.8 585.2 L192.16 566.35 L194.53 548.21 L196.89 530.76 L199.25 513.98 L201.62 497.83 L203.98 482.29 L206.35 467.35 L208.71 452.97 L211.07 439.14 L213.44 425.83 L215.8 413.03 L218.17 400.72 L220.53 388.87 L222.89 377.47 L225.26 366.51 L227.62 355.96 L229.99 345.81 L232.35 336.05 L234.71 326.65 L237.08 317.62 L239.44 308.93 L241.81 300.56 L244.17 292.52 L246.53 284.78 L248.9 277.33 L251.26 270.17 L253.63 263.28 L255.99 256.65 L258.35 250.27 L260.72 244.14 L263.08 238.24 L265.45 232.56 L267.81 227.1 L270.17 221.84 L272.54 216.79 L274.9 211.92 L277.27 207.24 L279.63 202.74 L281.99 198.41 L284.36 194.25 L286.72 190.24 L289.09 186.38 L291.45 182.67 L293.81 179.11 L296.18 175.67 L298.54 172.37 L300.91 169.19 L303.27 166.14 L305.63 163.2 L308 160.37 L310.36 157.65 L312.73 155.03 L315.09 152.51 L317.45 150.09 L319.82 147.76 L322.18 145.51 L324.55 143.36 L326.91 141.28 L329.27 139.28 L331.64 137.36 L334 135.52 L336.37 133.74 L338.73 132.03 L341.09 130.38 L343.46 128.8 L345.82 127.28 L348.19 125.81 L350.55 124.4 L352.91 123.05 L355.28 121.74 L357.64 120.49 L360.01 119.28 L362.37 118.12 L364.73 117 L367.1 115.93 L369.46 114.89 L371.83 113.9 L374.19 112.94 L376.55 112.02 L378.92 111.14 L381.28 110.28 L383.65 109.46 L386.01 108.68 L388.37 107.92 L390.74 107.19 L393.1 106.49 L395.47 105.81 L397.83 105.16 L400.19 104.54 L402.56 103.93 L404.92 103.36 L407.29 102.8 L409.65 102.26 L412.01 101.75 L414.38 101.25 L416.74 100.78 L419.11 100.32 L421.47 99.88 L423.83 99.45 L426.2 99.04 L428.56 98.65 L430.93 98.27 L433.29 97.91 L435.65 97.56 L438.02 97.22 L440.38 96.9 L442.75 96.59 L445.11 96.29 L447.47 96 L449.84 95.72 L452.2 95.46 L454.57 95.2 L456.93 94.95 L459.29 94.72 L461.66 94.49 L464.02 94.27 L466.39 94.06 L468.75 93.85 L471.11 93.66 L473.48 93.47 L475.84 93.29 L478.21 93.11 L480.57 92.95 L482.93 92.78 L485.3 92.63 L487.66 92.48 L490.03 92.34 L492.39 92.2 L494.75 92.07 L497.12 91.94 L499.48 91.81 L501.85 91.7 L504.21 91.58 L506.57 91.47 L508.94 91.37 L511.3 91.27 L513.67 91.17 L516.03 91.08 L518.39 90.99 L520.76 90.9 L523.12 90.81 L525.49 90.73 L527.85 90.66 L530.21 90.58 L532.58 90.51 L534.94 90.44 L537.31 90.38 L539.67 90.31 L542.03 90.25 L544.4 90.19 L546.76 90.14 L549.13 90.08 L551.49 90.03 L553.85 89.98 L556.22 89.93 L558.58 89.88 L560.95 89.84 L563.31 89.79 L565.67 89.75 L568.04 89.71 L570.4 89.67 L572.77 89.64 L575.13 89.6 L577.49 89.57 L579.86 89.53 L582.22 89.5 L584.59 89.47 L586.95 89.44 L589.31 89.41 L591.68 89.39 L594.04 89.36 L596.41 89.34 L598.77 89.31 L601.13 89.29 L601.5 89.28" stroke="#1b71b8" stroke-width="4.4" fill="none" stroke-linejoin="round"/>
<path d="M128.32 585.2 L188.2 585.2 L188.2 585.2 L190.56 563.13 L192.93 542.02 L195.29 521.84 L197.66 502.53 L200.02 484.07 L202.38 466.42 L204.75 449.53 L207.11 433.38 L209.48 417.93 L211.84 403.16 L214.2 389.03 L216.57 375.52 L218.93 362.6 L221.3 350.23 L223.66 338.41 L226.02 327.1 L228.39 316.28 L230.75 305.94 L233.12 296.04 L235.48 286.57 L237.84 277.52 L240.21 268.86 L242.57 260.57 L244.94 252.65 L247.3 245.07 L249.66 237.82 L252.03 230.88 L254.39 224.24 L256.76 217.9 L259.12 211.82 L261.48 206.01 L263.85 200.46 L266.21 195.14 L268.58 190.05 L270.94 185.19 L273.3 180.53 L275.67 176.08 L278.03 171.82 L280.4 167.74 L282.76 163.84 L285.12 160.11 L287.49 156.54 L289.85 153.12 L292.22 149.85 L294.58 146.73 L296.94 143.74 L299.31 140.87 L301.67 138.13 L304.04 135.51 L306.4 133 L308.76 130.6 L311.13 128.31 L313.49 126.11 L315.86 124.01 L318.22 122 L320.58 120.07 L322.95 118.23 L325.31 116.47 L327.68 114.78 L330.04 113.16 L332.4 111.62 L334.77 110.14 L337.13 108.72 L339.5 107.37 L341.86 106.07 L344.22 104.83 L346.59 103.65 L348.95 102.51 L351.32 101.42 L353.68 100.38 L356.04 99.39 L358.41 98.43 L360.77 97.52 L363.14 96.65 L365.5 95.81 L367.86 95.01 L370.23 94.24 L372.59 93.51 L374.96 92.81 L377.32 92.14 L379.68 91.49 L382.05 90.88 L384.41 90.29 L386.78 89.73 L389.14 89.19 L391.5 88.67 L393.87 88.17 L396.23 87.7 L398.6 87.25 L400.96 86.81 L403.32 86.4 L405.69 86 L408.05 85.62 L410.42 85.25 L412.78 84.9 L415.14 84.57 L417.51 84.25 L419.87 83.94 L422.24 83.65 L424.6 83.37 L426.96 83.1 L429.33 82.84 L431.69 82.6 L434.06 82.36 L436.42 82.13 L438.78 81.92 L441.15 81.71 L443.51 81.51 L445.88 81.32 L448.24 81.14 L450.6 80.97 L452.97 80.8 L455.33 80.64 L457.7 80.49 L460.06 80.34 L462.42 80.2 L464.79 80.06 L467.15 79.94 L469.52 79.81 L471.88 79.69 L474.24 79.58 L476.61 79.47 L478.97 79.37 L481.34 79.27 L483.7 79.17 L486.06 79.08 L488.43 79 L490.79 78.91 L493.16 78.83 L495.52 78.76 L497.88 78.68 L500.25 78.61 L502.61 78.54 L504.98 78.48 L507.34 78.42 L509.7 78.36 L512.07 78.3 L514.43 78.25 L516.8 78.2 L519.16 78.15 L521.52 78.1 L523.89 78.05 L526.25 78.01 L528.62 77.97 L530.98 77.93 L533.34 77.89 L535.71 77.85 L538.07 77.81 L540.44 77.78 L542.8 77.75 L545.16 77.72 L547.53 77.69 L549.89 77.66 L552.26 77.63 L554.62 77.61 L556.98 77.58 L559.35 77.56 L561.71 77.53 L564.08 77.51 L566.44 77.49 L568.8 77.47 L571.17 77.45 L573.53 77.43 L575.9 77.41 L578.26 77.4 L580.62 77.38 L582.99 77.36 L585.35 77.35 L587.72 77.33 L590.08 77.32 L592.44 77.31 L594.81 77.29 L597.17 77.28 L599.54 77.27 L601.5 77.26" stroke="#1f2f6c" stroke-width="4.4" fill="none" stroke-linejoin="round"/>
<text x="0.3" y="22.9" font-size="30.5" font-weight="bold" textLength="18.3" lengthAdjust="spacingAndGlyphs" stroke="#231f20" stroke-width="1.3" stroke-linejoin="round">a</text>
<text x="118.4" y="597.1" font-size="30.5" text-anchor="end" textLength="16.37" lengthAdjust="spacingAndGlyphs">0</text>
<text x="118.4" y="413.1" font-size="30.5" text-anchor="end" textLength="57.29" lengthAdjust="spacingAndGlyphs">0.05</text>
<text x="118.4" y="229.1" font-size="30.5" text-anchor="end" textLength="57.29" lengthAdjust="spacingAndGlyphs">0.10</text>
<text x="118.4" y="45.1" font-size="30.5" text-anchor="end" textLength="57.29" lengthAdjust="spacingAndGlyphs">0.15</text>
<text x="175.3" y="629.7" font-size="30.5" text-anchor="middle" textLength="16.37" lengthAdjust="spacingAndGlyphs">0</text>
<text x="296" y="629.7" font-size="30.5" text-anchor="middle" textLength="32.74" lengthAdjust="spacingAndGlyphs">50</text>
<text x="410.8" y="629.7" font-size="30.5" text-anchor="middle" textLength="49.11" lengthAdjust="spacingAndGlyphs">100</text>
<text x="528.5" y="629.7" font-size="30.5" text-anchor="middle" textLength="49.11" lengthAdjust="spacingAndGlyphs">150</text>
<text x="350.5" y="672.6" font-size="28.9" text-anchor="middle" textLength="118" lengthAdjust="spacingAndGlyphs">Time (ps)</text>
<text x="31.3" y="306.6" font-size="28.9" text-anchor="middle" textLength="255.5" lengthAdjust="spacingAndGlyphs" transform="rotate(-90 31.3 306.6)">MOKE angle (mrad)</text>
<text x="158.6" y="98.3" font-size="30.4" textLength="93" lengthAdjust="spacingAndGlyphs"><tspan font-style="italic">T</tspan> = 5 K</text>
<text x="616" y="69.2" font-size="30.5" textLength="81.6" lengthAdjust="spacingAndGlyphs">2.00 T</text>
<text x="616" y="110.7" font-size="30.5" textLength="81.6" lengthAdjust="spacingAndGlyphs">0.10 T</text>
<text x="616" y="181.6" font-size="30.5" textLength="81.6" lengthAdjust="spacingAndGlyphs">0.05 T</text>
<text x="616" y="323.2" font-size="30.5" textLength="81.6" lengthAdjust="spacingAndGlyphs">0.03 T</text>
<text x="616" y="368" font-size="30.5" textLength="81.6" lengthAdjust="spacingAndGlyphs">0.02 T</text>
<text x="616" y="493.6" font-size="30.5" textLength="81.6" lengthAdjust="spacingAndGlyphs">0.01 T</text>
</g>
<g id="panel-b">
<g filter="url(#blur5)"><rect x="948" y="82" width="578" height="104" fill="url(#bshade)"/><rect x="948" y="82" width="578" height="104" fill="url(#bshade2)"/></g>
<line x1="943.1" y1="84.5" x2="1529.5" y2="84.5" stroke="#111" stroke-width="2.3" stroke-dasharray="13.6 8.08"/>
<path d="M943.5 594 L946 500 L950 380 L954 280 L958 215 L961 196 L964 191.2 L968 189.8 L975 189.2 L1002 188.4 L1100 186.6 L1230 184.5 L1400 181.3 L1529.5 179.2" stroke="#b1adac" stroke-width="4.4" fill="none" stroke-linejoin="round"/>
<path d="M943.5 33.2V593.8H1529.5" stroke="#231f20" stroke-width="2.1" fill="none"/>
<line x1="943.5" y1="492.14" x2="950" y2="492.14" stroke="#231f20" stroke-width="1.9"/>
<line x1="943.5" y1="390.28" x2="950" y2="390.28" stroke="#231f20" stroke-width="1.9"/>
<line x1="943.5" y1="288.42" x2="950" y2="288.42" stroke="#231f20" stroke-width="1.9"/>
<line x1="943.5" y1="186.56" x2="950" y2="186.56" stroke="#231f20" stroke-width="1.9"/>
<line x1="943.5" y1="84.7" x2="950" y2="84.7" stroke="#231f20" stroke-width="1.9"/>
<line x1="1089.9" y1="594" x2="1089.9" y2="587.5" stroke="#231f20" stroke-width="1.9"/>
<line x1="1236.3" y1="594" x2="1236.3" y2="587.5" stroke="#231f20" stroke-width="1.9"/>
<line x1="1382.7" y1="594" x2="1382.7" y2="587.5" stroke="#231f20" stroke-width="1.9"/>
<line x1="1529.1" y1="594" x2="1529.1" y2="587.5" stroke="#231f20" stroke-width="1.9"/>
<path d="M943.5 594 L946.2 494.6 L949.5 393.6 L952.4 323.8 L957.9 207.1 L964 147.1 L972.7 116.2 L986.6 106.7 L1002.3 103.5 L1528.8 101.8" stroke="#2b3990" stroke-width="5" fill="none" stroke-linejoin="round"/>
<path d="M952.4 309.5V338.7M945.6 309.5H959.2M945.6 338.7H959.2" stroke="#3953a4" stroke-width="1.8" fill="none"/>
<path d="M957.9 186.2V227.3M951.1 186.2H964.7M951.1 227.3H964.7" stroke="#3953a4" stroke-width="1.8" fill="none"/>
<path d="M964 123.9V171.1M957.2 123.9H970.8M957.2 171.1H970.8" stroke="#3953a4" stroke-width="1.8" fill="none"/>
<path d="M972.7 91.9V142.2M965.9 91.9H979.5M965.9 142.2H979.5" stroke="#3953a4" stroke-width="1.8" fill="none"/>
<path d="M986.6 80.9V132.3M979.8 80.9H993.4M979.8 132.3H993.4" stroke="#3953a4" stroke-width="1.8" fill="none"/>
<path d="M1002.3 77.4V130M995.5 77.4H1009.1M995.5 130H1009.1" stroke="#3953a4" stroke-width="1.8" fill="none"/>
<path d="M1528.8 75V127M1522 75H1535.6M1522 127H1535.6" stroke="#3953a4" stroke-width="1.8" fill="none"/>
<g fill="#3953a4"><circle cx="943.5" cy="594" r="12.2"/><circle cx="946.2" cy="494.6" r="12.2"/><circle cx="949.5" cy="393.6" r="12.2"/><circle cx="952.4" cy="323.8" r="12.2"/><circle cx="957.9" cy="207.1" r="12.2"/><circle cx="964" cy="147.1" r="12.2"/><circle cx="972.7" cy="116.2" r="12.2"/><circle cx="986.6" cy="106.7" r="12.2"/><circle cx="1002.3" cy="103.5" r="12.2"/><circle cx="1528.8" cy="101.8" r="12.2"/></g>
<text x="808" y="23.2" font-size="33" font-weight="bold" textLength="21" lengthAdjust="spacingAndGlyphs" stroke="#231f20" stroke-width="1.4" stroke-linejoin="round">b</text>
<text x="930" y="606.5" font-size="30.5" text-anchor="end" textLength="16.37" lengthAdjust="spacingAndGlyphs">0</text>
<text x="930" y="504.64" font-size="30.5" text-anchor="end" textLength="40.92" lengthAdjust="spacingAndGlyphs">0.2</text>
<text x="930" y="402.78" font-size="30.5" text-anchor="end" textLength="40.92" lengthAdjust="spacingAndGlyphs">0.4</text>
<text x="930" y="300.92" font-size="30.5" text-anchor="end" textLength="40.92" lengthAdjust="spacingAndGlyphs">0.6</text>
<text x="930" y="199.06" font-size="30.5" text-anchor="end" textLength="40.92" lengthAdjust="spacingAndGlyphs">0.8</text>
<text x="930" y="97.2" font-size="30.5" text-anchor="end" textLength="40.92" lengthAdjust="spacingAndGlyphs">1.0</text>
<text x="942.7" y="629.5" font-size="30.5" text-anchor="middle" textLength="16.37" lengthAdjust="spacingAndGlyphs">0</text>
<text x="1087" y="629.5" font-size="30.5" text-anchor="middle" textLength="40.92" lengthAdjust="spacingAndGlyphs">0.5</text>
<text x="1235.7" y="629.5" font-size="30.5" text-anchor="middle" textLength="40.92" lengthAdjust="spacingAndGlyphs">1.0</text>
<text x="1381.2" y="629.5" font-size="30.5" text-anchor="middle" textLength="40.92" lengthAdjust="spacingAndGlyphs">1.5</text>
<text x="1527.9" y="629.5" font-size="30.5" text-anchor="middle" textLength="40.92" lengthAdjust="spacingAndGlyphs">2.0</text>
<text x="1237.3" y="673.6" font-size="28.9" text-anchor="middle" textLength="223.5" lengthAdjust="spacingAndGlyphs">Magnetic field (T)</text>
<text x="855.3" y="325.5" font-size="28.9" text-anchor="middle" textLength="271" lengthAdjust="spacingAndGlyphs" transform="rotate(-90 855.3 325.5)">Magnetization (<tspan font-style="italic">μ</tspan><tspan font-size="21.5" dy="8.2">B</tspan><tspan dy="-8.2">/Ti)</tspan></text>
<line x1="1231.6" y1="244" x2="1279" y2="244" stroke="#b1adac" stroke-width="4.6"/>
<text x="1298.6" y="251.8" font-size="28.9" textLength="144" lengthAdjust="spacingAndGlyphs">Equilibrium</text>
<line x1="1234.5" y1="286.8" x2="1282" y2="286.8" stroke="#3953a4" stroke-width="2"/>
<circle cx="1258.2" cy="286.8" r="8.9" fill="#3953a4"/>
<text x="1298.4" y="294.8" font-size="28.9" textLength="192.5" lengthAdjust="spacingAndGlyphs">9 THz pumped</text>
<path d="M1161.7 338.5V522H1453.8" stroke="#231f20" stroke-width="2.3" fill="none"/>
<line x1="1161.7" y1="470.95" x2="1164.6" y2="470.95" stroke="#231f20" stroke-width="1.8"/>
<line x1="1161.7" y1="419.9" x2="1164.6" y2="419.9" stroke="#231f20" stroke-width="1.8"/>
<line x1="1161.7" y1="368.85" x2="1164.6" y2="368.85" stroke="#231f20" stroke-width="1.8"/>
<line x1="1278.1" y1="522" x2="1278.1" y2="518" stroke="#231f20" stroke-width="1.8"/>
<line x1="1394.5" y1="522" x2="1394.5" y2="518" stroke="#231f20" stroke-width="1.8"/>
<line x1="1162" y1="356.4" x2="1453.8" y2="356.4" stroke="#111" stroke-width="2.3" stroke-dasharray="11.2 4 2.4 4"/>
<path d="M1225.6 428V452.3M1218.8 428H1232.4M1218.8 452.3H1232.4" stroke="#3953a4" stroke-width="1.9" fill="none"/>
<path d="M1282.2 382.2V405M1275.4 382.2H1289M1275.4 405H1289" stroke="#3953a4" stroke-width="1.9" fill="none"/>
<path d="M1364.9 364.8V383.1M1358.1 364.8H1371.7M1358.1 383.1H1371.7" stroke="#3953a4" stroke-width="1.9" fill="none"/>
<path d="M1381.8 364.8V383.1M1375 364.8H1388.6M1375 383.1H1388.6" stroke="#3953a4" stroke-width="1.9" fill="none"/>
<g fill="#3953a4"><rect x="1164" y="498.7" width="13.6" height="13.6"/><rect x="1169.8" y="491.3" width="13.6" height="13.6"/><rect x="1185.6" y="481.5" width="13.6" height="13.6"/><rect x="1193" y="487.3" width="13.6" height="13.6"/><rect x="1196.5" y="469.9" width="13.6" height="13.6"/><rect x="1211.8" y="443.7" width="13.6" height="13.6"/><rect x="1218.8" y="433.5" width="13.6" height="13.6"/><rect x="1246.2" y="406.5" width="13.6" height="13.6"/><rect x="1275.4" y="387" width="13.6" height="13.6"/><rect x="1358.1" y="367.5" width="13.6" height="13.6"/><rect x="1375" y="367.1" width="13.6" height="13.6"/><rect x="1430.2" y="366.4" width="13.6" height="13.6"/></g>
<text x="1158" y="428.4" font-size="24.7" text-anchor="end" textLength="36" lengthAdjust="spacingAndGlyphs">0.1</text>
<text x="1156.2" y="531.4" font-size="24.7" text-anchor="end" textLength="13.26" lengthAdjust="spacingAndGlyphs">0</text>
<text x="1161.1" y="547.5" font-size="24.7" text-anchor="middle" textLength="13.26" lengthAdjust="spacingAndGlyphs">0</text>
<text x="1275.9" y="547.5" font-size="24.7" text-anchor="middle" textLength="13.26" lengthAdjust="spacingAndGlyphs">2</text>
<text x="1393.1" y="547.5" font-size="24.7" text-anchor="middle" textLength="13.26" lengthAdjust="spacingAndGlyphs">4</text>
<text x="1297.6" y="570.8" font-size="23.9" text-anchor="middle" textLength="202" lengthAdjust="spacingAndGlyphs">Fluence (mJ cm<tspan font-size="16" dy="-8">–2</tspan><tspan dy="8">)</tspan></text>
<text x="1109" y="513.5" font-size="24.2" transform="rotate(-90 1109 513.5)">Δ<tspan font-style="italic">ϕ</tspan></text>
<text x="1095.5" y="478" font-size="15.5" textLength="29.28" lengthAdjust="spacingAndGlyphs" transform="rotate(-90 1095.5 478)">max</text>
<text x="1117" y="481" font-size="17" textLength="14.16" lengthAdjust="spacingAndGlyphs" transform="rotate(-90 1117 481)">M</text>
<text x="1109" y="438.6" font-size="23.9" textLength="68.5" lengthAdjust="spacingAndGlyphs" transform="rotate(-90 1109 438.6)">(mrad)</text>
<path d="M1568 110 Q1568 92 1586 92 H1695 Q1713 92 1713 110 V262 C1713 320 1680 380 1664 450 Q1652 525 1640 546 Q1628 525 1616 450 C1600 380 1568 320 1568 262 Z" fill="url(#spinbg)" filter="url(#blur12)"/>
<path d="M1606.9 115.1L1618.7 144.6L1609.3 139.1L1609.3 181.3L1604.5 181.3L1604.5 139.1L1595.1 144.6Z" stroke="none" stroke-width="1" fill="#0b0b0d"/>
<path d="M1671.3 115.1L1683.1 144.6L1673.7 139.1L1673.7 181.3L1668.9 181.3L1668.9 139.1L1659.5 144.6Z" stroke="none" stroke-width="1" fill="#0b0b0d"/>
<path d="M1608 197.9L1619.8 227.4L1610.4 221.9L1610.4 263.4L1605.6 263.4L1605.6 221.9L1596.2 227.4Z" stroke="none" stroke-width="1" fill="#0b0b0d"/>
<path d="M1670.1 197.9L1681.9 227.4L1672.5 221.9L1672.5 263.4L1667.7 263.4L1667.7 221.9L1658.3 227.4Z" stroke="none" stroke-width="1" fill="#0b0b0d"/>
<g filter="url(#blur2)">
<path d="M1595.01 423.75 L1610.92 449.41 L1601.22 445.81 L1596.73 446.6 L1588.84 453.3Z" fill="#000" fill-opacity="0.1"/>
<path d="M1601.22 445.81 L1606.39 485.41 L1605.41 485.59 L1596.73 446.6Z" fill="#000" fill-opacity="0.06"/>
<path d="M1595.03 423.73 L1610.93 449.4 L1601.23 445.8 L1596.74 446.59 L1588.85 453.28Z" fill="#000" fill-opacity="0.1"/>
<path d="M1601.23 445.8 L1606.39 485.41 L1605.41 485.59 L1596.74 446.59Z" fill="#000" fill-opacity="0.06"/>
<path d="M1595.15 423.63 L1611.02 449.36 L1601.31 445.74 L1596.81 446.52 L1588.89 453.21Z" fill="#000" fill-opacity="0.1"/>
<path d="M1601.31 445.74 L1606.39 485.41 L1605.41 485.59 L1596.81 446.52Z" fill="#000" fill-opacity="0.06"/>
<path d="M1595.41 423.4 L1611.2 449.28 L1601.48 445.6 L1596.96 446.37 L1588.99 453.03Z" fill="#000" fill-opacity="0.1"/>
<path d="M1601.48 445.6 L1606.39 485.42 L1605.41 485.58 L1596.96 446.37Z" fill="#000" fill-opacity="0.06"/>
<path d="M1595.85 423.02 L1611.51 449.15 L1601.78 445.37 L1597.23 446.1 L1589.17 452.74Z" fill="#000" fill-opacity="0.1"/>
<path d="M1601.78 445.37 L1606.39 485.42 L1605.41 485.58 L1597.23 446.1Z" fill="#000" fill-opacity="0.06"/>
<path d="M1596.52 422.45 L1611.99 448.95 L1602.23 445.03 L1597.64 445.72 L1589.44 452.31Z" fill="#000" fill-opacity="0.1"/>
<path d="M1602.23 445.03 L1606.39 485.43 L1605.41 485.57 L1597.64 445.72Z" fill="#000" fill-opacity="0.06"/>
<path d="M1597.47 421.67 L1612.65 448.7 L1602.86 444.58 L1598.22 445.19 L1589.83 451.71Z" fill="#000" fill-opacity="0.1"/>
<path d="M1602.86 444.58 L1606.4 485.43 L1605.4 485.57 L1598.22 445.19Z" fill="#000" fill-opacity="0.06"/>
<path d="M1598.74 420.69 L1613.53 448.38 L1603.7 443.99 L1598.99 444.51 L1590.35 450.94Z" fill="#000" fill-opacity="0.1"/>
<path d="M1603.7 443.99 L1606.4 485.45 L1605.4 485.55 L1598.99 444.51Z" fill="#000" fill-opacity="0.06"/>
<path d="M1600.4 419.48 L1614.66 448.01 L1604.8 443.29 L1600 443.69 L1591.05 449.97Z" fill="#000" fill-opacity="0.1"/>
<path d="M1604.8 443.29 L1606.4 485.46 L1605.4 485.54 L1600 443.69Z" fill="#000" fill-opacity="0.06"/>
<path d="M1602.5 418.07 L1616.07 447.6 L1606.19 442.46 L1601.28 442.71 L1591.96 448.82Z" fill="#000" fill-opacity="0.1"/>
<path d="M1606.19 442.46 L1606.4 485.47 L1605.4 485.53 L1601.28 442.71Z" fill="#000" fill-opacity="0.06"/>
<path d="M1605.12 416.47 L1617.81 447.18 L1607.91 441.54 L1602.89 441.6 L1593.13 447.46Z" fill="#000" fill-opacity="0.1"/>
<path d="M1607.91 441.54 L1606.4 485.49 L1605.4 485.51 L1602.89 441.6Z" fill="#000" fill-opacity="0.06"/>
<path d="M1608.35 414.72 L1619.91 446.79 L1610.03 440.55 L1604.89 440.37 L1594.6 445.92Z" fill="#000" fill-opacity="0.1"/>
<path d="M1610.03 440.55 L1606.4 485.52 L1605.4 485.48 L1604.89 440.37Z" fill="#000" fill-opacity="0.06"/>
<path d="M1612.28 412.9 L1622.41 446.49 L1612.6 439.53 L1607.32 439.07 L1596.45 444.21Z" fill="#000" fill-opacity="0.1"/>
<path d="M1612.6 439.53 L1606.4 485.54 L1605.4 485.46 L1607.32 439.07Z" fill="#000" fill-opacity="0.06"/>
<path d="M1617.02 411.09 L1625.35 446.34 L1615.68 438.55 L1610.27 437.74 L1598.75 442.36Z" fill="#000" fill-opacity="0.1"/>
<path d="M1615.68 438.55 L1606.39 485.57 L1605.41 485.43 L1610.27 437.74Z" fill="#000" fill-opacity="0.06"/>
<path d="M1606.5 496 L1613.59 525.99 L1605.36 519.37 L1600.76 518.68 L1590.95 522.61Z" fill="#000" fill-opacity="0.12"/>
<path d="M1607.51 494.18 L1616.7 524.84 L1607.76 518.48 L1602.95 518.05 L1593.02 522.72Z" fill="#000" fill-opacity="0.12"/>
<path d="M1605.01 492.76 L1616.12 523.89 L1606.56 517.81 L1601.57 517.62 L1591.58 522.97Z" fill="#000" fill-opacity="0.12"/>
<path d="M1607.69 494.02 L1620.52 525.46 L1610.44 519.65 L1605.3 519.69 L1595.3 525.64Z" fill="#000" fill-opacity="0.12"/>
<path d="M1606.24 494.3 L1620.58 525.94 L1610.04 520.39 L1604.8 520.63 L1594.8 527.1Z" fill="#000" fill-opacity="0.12"/>
<path d="M1605.7 492.29 L1621.32 524.02 L1610.41 518.72 L1605.08 519.13 L1595.12 526.04Z" fill="#000" fill-opacity="0.12"/>
<path d="M1607.95 491.94 L1624.64 523.73 L1613.43 518.64 L1608.04 519.2 L1598.11 526.47Z" fill="#000" fill-opacity="0.12"/>
<path d="M1605.17 493.58 L1622.72 525.38 L1611.28 520.47 L1605.83 521.14 L1595.94 528.71Z" fill="#000" fill-opacity="0.12"/>
<path d="M1607.01 493.12 L1625.23 524.92 L1613.61 520.15 L1608.13 520.92 L1598.27 528.71Z" fill="#000" fill-opacity="0.12"/>
<path d="M1607.07 491.32 L1625.77 523.1 L1614.02 518.43 L1608.51 519.27 L1598.69 527.23Z" fill="#000" fill-opacity="0.12"/>
<path d="M1605.14 492.03 L1624.16 523.8 L1612.33 519.2 L1606.8 520.09 L1597 528.15Z" fill="#000" fill-opacity="0.12"/>
<path d="M1607.93 493.51 L1627.14 525.27 L1615.26 520.72 L1609.73 521.63 L1599.93 529.76Z" fill="#000" fill-opacity="0.12"/>
<path d="M1605.75 492.33 L1625.04 524.09 L1613.14 519.56 L1607.6 520.48 L1597.81 528.64Z" fill="#000" fill-opacity="0.12"/>
<path d="M1606.18 491.11 L1625.49 522.87 L1613.58 518.34 L1608.04 519.27 L1598.26 527.43Z" fill="#000" fill-opacity="0.12"/>
<path d="M1603.5 519 L1614 521 L1621.8 567.5 L1608 564 L1595.3 556.5Z" fill="#000" fill-opacity="0.19"/>
</g>
<g filter="url(#blur2)">
<path d="M1682.99 423.75 L1667.08 449.41 L1676.78 445.81 L1681.27 446.6 L1689.16 453.3Z" fill="#000" fill-opacity="0.1"/>
<path d="M1676.78 445.81 L1671.61 485.41 L1672.59 485.59 L1681.27 446.6Z" fill="#000" fill-opacity="0.06"/>
<path d="M1682.97 423.73 L1667.07 449.4 L1676.77 445.8 L1681.26 446.59 L1689.15 453.28Z" fill="#000" fill-opacity="0.1"/>
<path d="M1676.77 445.8 L1671.61 485.41 L1672.59 485.59 L1681.26 446.59Z" fill="#000" fill-opacity="0.06"/>
<path d="M1682.85 423.63 L1666.98 449.36 L1676.69 445.74 L1681.19 446.52 L1689.11 453.21Z" fill="#000" fill-opacity="0.1"/>
<path d="M1676.69 445.74 L1671.61 485.41 L1672.59 485.59 L1681.19 446.52Z" fill="#000" fill-opacity="0.06"/>
<path d="M1682.59 423.4 L1666.8 449.28 L1676.52 445.6 L1681.04 446.37 L1689.01 453.03Z" fill="#000" fill-opacity="0.1"/>
<path d="M1676.52 445.6 L1671.61 485.42 L1672.59 485.58 L1681.04 446.37Z" fill="#000" fill-opacity="0.06"/>
<path d="M1682.15 423.02 L1666.49 449.15 L1676.22 445.37 L1680.77 446.1 L1688.83 452.74Z" fill="#000" fill-opacity="0.1"/>
<path d="M1676.22 445.37 L1671.61 485.42 L1672.59 485.58 L1680.77 446.1Z" fill="#000" fill-opacity="0.06"/>
<path d="M1681.48 422.45 L1666.01 448.95 L1675.77 445.03 L1680.36 445.72 L1688.56 452.31Z" fill="#000" fill-opacity="0.1"/>
<path d="M1675.77 445.03 L1671.61 485.43 L1672.59 485.57 L1680.36 445.72Z" fill="#000" fill-opacity="0.06"/>
<path d="M1680.53 421.67 L1665.35 448.7 L1675.14 444.58 L1679.78 445.19 L1688.17 451.71Z" fill="#000" fill-opacity="0.1"/>
<path d="M1675.14 444.58 L1671.6 485.43 L1672.6 485.57 L1679.78 445.19Z" fill="#000" fill-opacity="0.06"/>
<path d="M1679.26 420.69 L1664.47 448.38 L1674.3 443.99 L1679.01 444.51 L1687.65 450.94Z" fill="#000" fill-opacity="0.1"/>
<path d="M1674.3 443.99 L1671.6 485.45 L1672.6 485.55 L1679.01 444.51Z" fill="#000" fill-opacity="0.06"/>
<path d="M1677.6 419.48 L1663.34 448.01 L1673.2 443.29 L1678 443.69 L1686.95 449.97Z" fill="#000" fill-opacity="0.1"/>
<path d="M1673.2 443.29 L1671.6 485.46 L1672.6 485.54 L1678 443.69Z" fill="#000" fill-opacity="0.06"/>
<path d="M1675.5 418.07 L1661.93 447.6 L1671.81 442.46 L1676.72 442.71 L1686.04 448.82Z" fill="#000" fill-opacity="0.1"/>
<path d="M1671.81 442.46 L1671.6 485.47 L1672.6 485.53 L1676.72 442.71Z" fill="#000" fill-opacity="0.06"/>
<path d="M1672.88 416.47 L1660.19 447.18 L1670.09 441.54 L1675.11 441.6 L1684.87 447.46Z" fill="#000" fill-opacity="0.1"/>
<path d="M1670.09 441.54 L1671.6 485.49 L1672.6 485.51 L1675.11 441.6Z" fill="#000" fill-opacity="0.06"/>
<path d="M1669.65 414.72 L1658.09 446.79 L1667.97 440.55 L1673.11 440.37 L1683.4 445.92Z" fill="#000" fill-opacity="0.1"/>
<path d="M1667.97 440.55 L1671.6 485.52 L1672.6 485.48 L1673.11 440.37Z" fill="#000" fill-opacity="0.06"/>
<path d="M1665.72 412.9 L1655.59 446.49 L1665.4 439.53 L1670.68 439.07 L1681.55 444.21Z" fill="#000" fill-opacity="0.1"/>
<path d="M1665.4 439.53 L1671.6 485.54 L1672.6 485.46 L1670.68 439.07Z" fill="#000" fill-opacity="0.06"/>
<path d="M1660.98 411.09 L1652.65 446.34 L1662.32 438.55 L1667.73 437.74 L1679.25 442.36Z" fill="#000" fill-opacity="0.1"/>
<path d="M1662.32 438.55 L1671.61 485.57 L1672.59 485.43 L1667.73 437.74Z" fill="#000" fill-opacity="0.06"/>
<path d="M1671.5 496 L1664.41 525.99 L1672.64 519.37 L1677.24 518.68 L1687.05 522.61Z" fill="#000" fill-opacity="0.12"/>
<path d="M1670.49 494.18 L1661.3 524.84 L1670.24 518.48 L1675.05 518.05 L1684.98 522.72Z" fill="#000" fill-opacity="0.12"/>
<path d="M1672.99 492.76 L1661.88 523.89 L1671.44 517.81 L1676.43 517.62 L1686.42 522.97Z" fill="#000" fill-opacity="0.12"/>
<path d="M1670.31 494.02 L1657.48 525.46 L1667.56 519.65 L1672.7 519.69 L1682.7 525.64Z" fill="#000" fill-opacity="0.12"/>
<path d="M1671.76 494.3 L1657.42 525.94 L1667.96 520.39 L1673.2 520.63 L1683.2 527.1Z" fill="#000" fill-opacity="0.12"/>
<path d="M1672.3 492.29 L1656.68 524.02 L1667.59 518.72 L1672.92 519.13 L1682.88 526.04Z" fill="#000" fill-opacity="0.12"/>
<path d="M1670.05 491.94 L1653.36 523.73 L1664.57 518.64 L1669.96 519.2 L1679.89 526.47Z" fill="#000" fill-opacity="0.12"/>
<path d="M1672.83 493.58 L1655.28 525.38 L1666.72 520.47 L1672.17 521.14 L1682.06 528.71Z" fill="#000" fill-opacity="0.12"/>
<path d="M1670.99 493.12 L1652.77 524.92 L1664.39 520.15 L1669.87 520.92 L1679.73 528.71Z" fill="#000" fill-opacity="0.12"/>
<path d="M1670.93 491.32 L1652.23 523.1 L1663.98 518.43 L1669.49 519.27 L1679.31 527.23Z" fill="#000" fill-opacity="0.12"/>
<path d="M1672.86 492.03 L1653.84 523.8 L1665.67 519.2 L1671.2 520.09 L1681 528.15Z" fill="#000" fill-opacity="0.12"/>
<path d="M1670.07 493.51 L1650.86 525.27 L1662.74 520.72 L1668.27 521.63 L1678.07 529.76Z" fill="#000" fill-opacity="0.12"/>
<path d="M1672.25 492.33 L1652.96 524.09 L1664.86 519.56 L1670.4 520.48 L1680.19 528.64Z" fill="#000" fill-opacity="0.12"/>
<path d="M1671.82 491.11 L1652.51 522.87 L1664.42 518.34 L1669.96 519.27 L1679.74 527.43Z" fill="#000" fill-opacity="0.12"/>
<path d="M1674.5 519 L1664 521 L1656.2 567.5 L1670 564 L1682.7 556.5Z" fill="#000" fill-opacity="0.19"/>
</g>
</g>
<g id="panel-c">
<path d="M128.7 801.01C130.77 801.16 136.98 801.67 141.12 801.9C145.26 802.14 149.4 802.26 153.54 802.43C157.68 802.59 161.83 802.69 165.97 802.88C170.11 803.07 174.25 803.25 178.39 803.57C182.53 803.88 186.67 804.23 190.81 804.77C194.95 805.31 199.09 805.94 203.23 806.8C207.37 807.66 211.51 808.66 215.65 809.95C219.79 811.23 223.94 812.7 228.08 814.51C232.22 816.32 236.36 818.36 240.5 820.79C244.64 823.22 248.78 825.93 252.92 829.08C257.06 832.22 261.2 835.71 265.34 839.67C269.48 843.64 273.62 847.99 277.76 852.87C281.91 857.76 286.05 863.13 290.19 868.96C294.33 874.79 298.47 881.14 302.61 887.86C306.75 894.59 310.89 901.78 315.03 909.28C319.17 916.79 323.31 924.71 327.45 932.9C331.59 941.08 335.73 949.63 339.87 958.39C344.02 967.14 348.16 976.23 352.3 985.43C356.44 994.64 360.58 1004.26 364.72 1013.61C368.86 1022.97 373 1032.59 377.14 1041.58C381.28 1050.56 385.42 1059.47 389.56 1067.51C393.7 1075.55 397.84 1083.1 401.98 1089.84C406.13 1096.57 410.27 1102.56 414.41 1107.94C418.55 1113.32 422.69 1117.87 426.83 1122.1C430.97 1126.33 435.11 1129.91 439.25 1133.34C443.39 1136.77 447.53 1139.76 451.67 1142.71C455.81 1145.65 459.95 1148.39 464.09 1151C468.24 1153.62 472.38 1156.08 476.52 1158.41C480.66 1160.74 484.8 1162.92 488.94 1164.99C493.08 1167.06 497.22 1169 501.36 1170.84C505.5 1172.67 509.64 1174.39 513.78 1176.02C517.92 1177.65 522.06 1179.16 526.21 1180.61C530.35 1182.06 534.49 1183.4 538.63 1184.69C542.77 1185.98 546.91 1187.19 551.05 1188.34C555.19 1189.5 559.33 1190.58 563.47 1191.64C567.61 1192.69 571.75 1193.68 575.89 1194.65C580.03 1195.62 584.17 1196.55 588.32 1197.46C592.46 1198.38 596.6 1199.27 600.74 1200.14C604.88 1201.01 609.02 1201.86 613.16 1202.69C617.3 1203.53 621.44 1204.34 625.58 1205.13C629.72 1205.93 633.86 1206.7 638 1207.46C642.14 1208.22 646.28 1208.95 650.43 1209.67C654.57 1210.39 658.71 1211.09 662.85 1211.77C666.99 1212.46 671.13 1213.12 675.27 1213.77C679.41 1214.41 683.55 1215.04 687.69 1215.65C691.83 1216.27 695.97 1216.86 700.11 1217.44C704.25 1218.02 708.39 1218.58 712.54 1219.12C716.68 1219.66 720.82 1220.19 724.96 1220.7C729.1 1221.21 733.24 1221.71 737.38 1222.19C741.52 1222.67 745.66 1223.13 749.8 1223.58C753.94 1224.02 758.08 1224.45 762.22 1224.87C766.36 1225.29 770.51 1225.69 774.65 1226.08C778.79 1226.46 782.93 1226.83 787.07 1227.19C791.21 1227.55 795.35 1227.89 799.49 1228.22C803.63 1228.55 807.77 1228.86 811.91 1229.17C816.05 1229.47 820.19 1229.75 824.33 1230.03C828.47 1230.3 832.62 1230.56 836.76 1230.81C840.9 1231.06 845.04 1231.29 849.18 1231.51C853.32 1231.73 859.53 1232.04 861.6 1232.14L861.6 1311.3L367.5 1311.3L351.8 1308.5L340.8 1301.3L334.6 1290.4L328.3 1274.7L320.5 1237.1L308 1196.4L292.3 1149.4L276.6 1108.7L261 1075.8L245.3 1046L214 997.5L182.7 958.3L151.3 927L128.7 909.6Z" stroke="none" stroke-width="1" fill="#f7f8fc"/>
<line x1="340.5" y1="754" x2="340.5" y2="776" stroke="#a9a9ab" stroke-width="2.2" stroke-dasharray="14.5 2.5 2 2.5"/>
<line x1="340.5" y1="825.5" x2="340.5" y2="1311" stroke="#a9a9ab" stroke-width="2.2" stroke-dasharray="14.5 2.5 2 2.5"/>
<path d="M128.7 750.5V1311.2H861.6" stroke="#231f20" stroke-width="2.1" fill="none"/>
<line x1="128.7" y1="1209.32" x2="136" y2="1209.32" stroke="#231f20" stroke-width="1.9"/>
<line x1="128.7" y1="1107.34" x2="136" y2="1107.34" stroke="#231f20" stroke-width="1.9"/>
<line x1="128.7" y1="1005.36" x2="136" y2="1005.36" stroke="#231f20" stroke-width="1.9"/>
<line x1="128.7" y1="903.38" x2="136" y2="903.38" stroke="#231f20" stroke-width="1.9"/>
<line x1="128.7" y1="801.4" x2="136" y2="801.4" stroke="#231f20" stroke-width="1.9"/>
<line x1="273.3" y1="1311.3" x2="273.3" y2="1303.5" stroke="#231f20" stroke-width="1.9"/>
<line x1="466.1" y1="1311.3" x2="466.1" y2="1303.5" stroke="#231f20" stroke-width="1.9"/>
<line x1="658.9" y1="1311.3" x2="658.9" y2="1303.5" stroke="#231f20" stroke-width="1.9"/>
<line x1="851.7" y1="1311.3" x2="851.7" y2="1303.5" stroke="#231f20" stroke-width="1.9"/>
<path d="M128.7 909.6C132.47 912.5 142.3 918.88 151.3 927C160.3 935.12 172.25 946.55 182.7 958.3C193.15 970.05 203.57 982.88 214 997.5C224.43 1012.12 237.47 1032.95 245.3 1046C253.13 1059.05 255.78 1065.35 261 1075.8C266.22 1086.25 271.38 1096.43 276.6 1108.7C281.82 1120.97 287.07 1134.78 292.3 1149.4C297.53 1164.02 303.3 1181.78 308 1196.4C312.7 1211.02 317.12 1224.05 320.5 1237.1C323.88 1250.15 325.95 1265.82 328.3 1274.7C330.65 1283.58 332.52 1285.97 334.6 1290.4C336.68 1294.83 337.93 1298.28 340.8 1301.3C343.67 1304.32 347.35 1306.83 351.8 1308.5C356.25 1310.17 364.88 1310.83 367.5 1311.3L861.6 1311.3" stroke="#aaa7a8" stroke-width="4.4" fill="none" stroke-linejoin="round"/>
<path d="M128.7 801.01C130.77 801.16 136.98 801.67 141.12 801.9C145.26 802.14 149.4 802.26 153.54 802.43C157.68 802.59 161.83 802.69 165.97 802.88C170.11 803.07 174.25 803.25 178.39 803.57C182.53 803.88 186.67 804.23 190.81 804.77C194.95 805.31 199.09 805.94 203.23 806.8C207.37 807.66 211.51 808.66 215.65 809.95C219.79 811.23 223.94 812.7 228.08 814.51C232.22 816.32 236.36 818.36 240.5 820.79C244.64 823.22 248.78 825.93 252.92 829.08C257.06 832.22 261.2 835.71 265.34 839.67C269.48 843.64 273.62 847.99 277.76 852.87C281.91 857.76 286.05 863.13 290.19 868.96C294.33 874.79 298.47 881.14 302.61 887.86C306.75 894.59 310.89 901.78 315.03 909.28C319.17 916.79 323.31 924.71 327.45 932.9C331.59 941.08 335.73 949.63 339.87 958.39C344.02 967.14 348.16 976.23 352.3 985.43C356.44 994.64 360.58 1004.26 364.72 1013.61C368.86 1022.97 373 1032.59 377.14 1041.58C381.28 1050.56 385.42 1059.47 389.56 1067.51C393.7 1075.55 397.84 1083.1 401.98 1089.84C406.13 1096.57 410.27 1102.56 414.41 1107.94C418.55 1113.32 422.69 1117.87 426.83 1122.1C430.97 1126.33 435.11 1129.91 439.25 1133.34C443.39 1136.77 447.53 1139.76 451.67 1142.71C455.81 1145.65 459.95 1148.39 464.09 1151C468.24 1153.62 472.38 1156.08 476.52 1158.41C480.66 1160.74 484.8 1162.92 488.94 1164.99C493.08 1167.06 497.22 1169 501.36 1170.84C505.5 1172.67 509.64 1174.39 513.78 1176.02C517.92 1177.65 522.06 1179.16 526.21 1180.61C530.35 1182.06 534.49 1183.4 538.63 1184.69C542.77 1185.98 546.91 1187.19 551.05 1188.34C555.19 1189.5 559.33 1190.58 563.47 1191.64C567.61 1192.69 571.75 1193.68 575.89 1194.65C580.03 1195.62 584.17 1196.55 588.32 1197.46C592.46 1198.38 596.6 1199.27 600.74 1200.14C604.88 1201.01 609.02 1201.86 613.16 1202.69C617.3 1203.53 621.44 1204.34 625.58 1205.13C629.72 1205.93 633.86 1206.7 638 1207.46C642.14 1208.22 646.28 1208.95 650.43 1209.67C654.57 1210.39 658.71 1211.09 662.85 1211.77C666.99 1212.46 671.13 1213.12 675.27 1213.77C679.41 1214.41 683.55 1215.04 687.69 1215.65C691.83 1216.27 695.97 1216.86 700.11 1217.44C704.25 1218.02 708.39 1218.58 712.54 1219.12C716.68 1219.66 720.82 1220.19 724.96 1220.7C729.1 1221.21 733.24 1221.71 737.38 1222.19C741.52 1222.67 745.66 1223.13 749.8 1223.58C753.94 1224.02 758.08 1224.45 762.22 1224.87C766.36 1225.29 770.51 1225.69 774.65 1226.08C778.79 1226.46 782.93 1226.83 787.07 1227.19C791.21 1227.55 795.35 1227.89 799.49 1228.22C803.63 1228.55 807.77 1228.86 811.91 1229.17C816.05 1229.47 820.19 1229.75 824.33 1230.03C828.47 1230.3 832.62 1230.56 836.76 1230.81C840.9 1231.06 845.04 1231.29 849.18 1231.51C853.32 1231.73 859.53 1232.04 861.6 1232.14" stroke="#2b3990" stroke-width="4.3" fill="none"/>
<path d="M128.7 791V838.6M121.8 791H135.6M121.8 838.6H135.6" stroke="#3953a4" stroke-width="1.9" fill="none"/>
<path d="M176.9 779.2V826.9M170 779.2H183.8M170 826.9H183.8" stroke="#3953a4" stroke-width="1.9" fill="none"/>
<path d="M225 777.5V825M218.1 777.5H231.9M218.1 825H231.9" stroke="#3953a4" stroke-width="1.9" fill="none"/>
<path d="M273.2 822V870.8M266.3 822H280.1M266.3 870.8H280.1" stroke="#3953a4" stroke-width="1.9" fill="none"/>
<path d="M321.3 907.2V947.8M314.4 907.2H328.2M314.4 947.8H328.2" stroke="#3953a4" stroke-width="1.9" fill="none"/>
<path d="M369.8 1010V1050.1M362.9 1010H376.7M362.9 1050.1H376.7" stroke="#3953a4" stroke-width="1.9" fill="none"/>
<path d="M417.9 1074.4V1131.7M411 1074.4H424.8M411 1131.7H424.8" stroke="#3953a4" stroke-width="1.9" fill="none"/>
<path d="M466.1 1128V1189.3M459.2 1128H473M459.2 1189.3H473" stroke="#3953a4" stroke-width="1.9" fill="none"/>
<path d="M514.5 1148.8V1231.8M507.6 1148.8H521.4M507.6 1231.8H521.4" stroke="#3953a4" stroke-width="1.9" fill="none"/>
<path d="M658.8 1135.3V1280.8M651.9 1135.3H665.7M651.9 1280.8H665.7" stroke="#3953a4" stroke-width="1.9" fill="none"/>
<path d="M852.1 1144.2V1311M845.2 1144.2H859" stroke="#3953a4" stroke-width="1.9" fill="none"/>
<g fill="#3953a4"><circle cx="128.7" cy="814.9" r="12.4"/><circle cx="176.9" cy="802.2" r="12.4"/><circle cx="225" cy="801" r="12.4"/><circle cx="273.2" cy="846.8" r="12.4"/><circle cx="321.3" cy="927.4" r="12.4"/><circle cx="369.8" cy="1030.1" r="12.4"/><circle cx="417.9" cy="1103.3" r="12.4"/><circle cx="466.1" cy="1158.8" r="12.4"/><circle cx="514.5" cy="1189.9" r="12.4"/><circle cx="658.8" cy="1207.7" r="12.4"/><circle cx="852.1" cy="1257.5" r="12.4"/></g>
<path d="M351.4 1171.2H398" stroke="#2b3990" stroke-width="4.8" fill="none"/>
<path d="M421 1171.2L392.3 1159.4L400 1171.2L392.3 1183Z" stroke="none" stroke-width="1" fill="#2b3990"/>
<circle cx="658.8" cy="1207.7" r="44.4" fill="none" stroke="#4f2d2d" stroke-width="2.1"/>
<path d="M686.6 1169.1C738.8 1066.8 814.3 1028 921 1025.4" stroke="#4f2d2d" stroke-width="2" fill="none"/>
<path d="M931 1025.2L915.8 1019.0L919.8 1025.3L916.2 1031.7Z" stroke="none" stroke-width="1" fill="#4f2d2d"/>
<text x="0" y="746.3" font-size="32" font-weight="bold" textLength="18.6" lengthAdjust="spacingAndGlyphs" stroke="#231f20" stroke-width="1.4" stroke-linejoin="round">c</text>
<text x="112.3" y="1323.6" font-size="30.5" text-anchor="end" textLength="16.37" lengthAdjust="spacingAndGlyphs">0</text>
<text x="112.3" y="1221.62" font-size="30.5" text-anchor="end" textLength="40.92" lengthAdjust="spacingAndGlyphs">0.2</text>
<text x="112.3" y="1119.64" font-size="30.5" text-anchor="end" textLength="40.92" lengthAdjust="spacingAndGlyphs">0.4</text>
<text x="112.3" y="1017.66" font-size="30.5" text-anchor="end" textLength="40.92" lengthAdjust="spacingAndGlyphs">0.6</text>
<text x="112.3" y="915.68" font-size="30.5" text-anchor="end" textLength="40.92" lengthAdjust="spacingAndGlyphs">0.8</text>
<text x="112.3" y="813.7" font-size="30.5" text-anchor="end" textLength="40.92" lengthAdjust="spacingAndGlyphs">1.0</text>
<text x="270.6" y="1343.9" font-size="30.5" text-anchor="middle" textLength="32.74" lengthAdjust="spacingAndGlyphs">20</text>
<text x="463.4" y="1343.9" font-size="30.5" text-anchor="middle" textLength="32.74" lengthAdjust="spacingAndGlyphs">40</text>
<text x="656.2" y="1343.9" font-size="30.5" text-anchor="middle" textLength="32.74" lengthAdjust="spacingAndGlyphs">60</text>
<text x="849" y="1343.9" font-size="30.5" text-anchor="middle" textLength="32.74" lengthAdjust="spacingAndGlyphs">80</text>
<text x="471.5" y="1388.1" font-size="28.9" text-anchor="middle" textLength="209.5" lengthAdjust="spacingAndGlyphs">Temperature (K)</text>
<text x="34.3" y="1046.5" font-size="28.9" text-anchor="middle" textLength="271" lengthAdjust="spacingAndGlyphs" transform="rotate(-90 34.3 1046.5)">Magnetization (<tspan font-style="italic">μ</tspan><tspan font-size="21.5" dy="8.2">B</tspan><tspan dy="-8.2">/Ti)</tspan></text>
<text x="327.6" y="806.7" font-size="30.6"><tspan font-style="italic">T</tspan><tspan font-size="22" dy="9.1" dx="-1.5">c</tspan></text>
<line x1="568.4" y1="796.2" x2="615.6" y2="796.2" stroke="#aaa7a8" stroke-width="4.6"/>
<text x="635.2" y="803.8" font-size="28.9" textLength="145" lengthAdjust="spacingAndGlyphs">Equilibrium</text>
<line x1="568.4" y1="839.2" x2="615.6" y2="839.2" stroke="#3953a4" stroke-width="2"/>
<circle cx="591.7" cy="839.2" r="9.1" fill="#3953a4"/>
<text x="635.2" y="847.8" font-size="28.9" textLength="192.5" lengthAdjust="spacingAndGlyphs">9 THz pumped</text>
</g>
<g id="panel-d">
<path d="M1124.1 1279.39C1133.3 1275.68 1162.23 1265.54 1179.32 1257.16C1196.41 1248.78 1216.13 1235.35 1226.64 1229.1C1237.16 1222.85 1236.5 1224.47 1242.42 1219.65C1248.34 1214.84 1255.11 1208.42 1262.14 1200.2C1269.17 1191.98 1278.15 1181.22 1284.62 1170.34C1291.1 1159.45 1296.68 1146.64 1300.99 1134.91C1305.29 1123.18 1307.07 1116.88 1310.45 1099.97C1313.84 1083.07 1317.68 1055.66 1321.3 1033.5C1324.92 1011.34 1328.76 983.93 1332.15 967.03C1335.53 950.12 1337.31 943.82 1341.61 932.09C1345.92 920.36 1351.5 907.55 1357.98 896.66C1364.45 885.78 1373.43 875.02 1380.46 866.8C1387.49 858.58 1394.26 852.16 1400.18 847.35C1406.1 842.53 1405.44 844.15 1415.96 837.9C1426.47 831.65 1446.19 818.22 1463.28 809.84C1480.37 801.46 1509.3 791.32 1518.5 787.61" stroke="#d1d3d4" stroke-width="4.6" fill="none" stroke-dasharray="14.5 10"/>
<rect x="1116.5" y="755.7" width="409.6" height="555.7" fill="none" stroke="#231f20" stroke-width="2.1"/>
<line x1="1116.6" y1="1187.3" x2="1122.2" y2="1187.3" stroke="#231f20" stroke-width="1.9"/>
<line x1="1116.6" y1="1033.4" x2="1122.2" y2="1033.4" stroke="#231f20" stroke-width="1.9"/>
<line x1="1116.6" y1="879.5" x2="1122.2" y2="879.5" stroke="#231f20" stroke-width="1.9"/>
<line x1="1526.1" y1="1172.42" x2="1520.3" y2="1172.42" stroke="#231f20" stroke-width="1.9"/>
<line x1="1526.1" y1="1033.5" x2="1520.3" y2="1033.5" stroke="#231f20" stroke-width="1.9"/>
<line x1="1526.1" y1="894.58" x2="1520.3" y2="894.58" stroke="#231f20" stroke-width="1.9"/>
<line x1="1124.1" y1="1311.4" x2="1124.1" y2="1305.5" stroke="#231f20" stroke-width="1.9"/>
<line x1="1321.3" y1="1311.4" x2="1321.3" y2="1305.5" stroke="#231f20" stroke-width="1.9"/>
<line x1="1518.5" y1="1311.4" x2="1518.5" y2="1305.5" stroke="#231f20" stroke-width="1.9"/>
<path d="M1124.7 1111.6V1250.1M1117.9 1111.6H1131.5M1117.9 1250.1H1131.5" stroke="#552f2f" stroke-width="1.9" fill="none"/>
<path d="M1242.2 1148.7V1277.2M1235.4 1148.7H1249M1235.4 1277.2H1249" stroke="#552f2f" stroke-width="1.9" fill="none"/>
<path d="M1261.7 1100V1304.8M1254.9 1100H1268.5M1254.9 1304.8H1268.5" stroke="#552f2f" stroke-width="1.9" fill="none"/>
<path d="M1282.3 1072.4V1246.1M1275.5 1072.4H1289.1M1275.5 1246.1H1289.1" stroke="#552f2f" stroke-width="1.9" fill="none"/>
<path d="M1293.9 1040.8V1195.9M1287.1 1040.8H1300.7M1287.1 1195.9H1300.7" stroke="#552f2f" stroke-width="1.9" fill="none"/>
<path d="M1309.9 990.1V1150.7M1303.1 990.1H1316.7M1303.1 1150.7H1316.7" stroke="#552f2f" stroke-width="1.9" fill="none"/>
<path d="M1333 915.3V1076M1326.2 915.3H1339.8M1326.2 1076H1339.8" stroke="#552f2f" stroke-width="1.9" fill="none"/>
<path d="M1348.9 871V1025.8M1342.1 871H1355.7M1342.1 1025.8H1355.7" stroke="#552f2f" stroke-width="1.9" fill="none"/>
<path d="M1360.6 820.8V994.5M1353.8 820.8H1367.4M1353.8 994.5H1367.4" stroke="#552f2f" stroke-width="1.9" fill="none"/>
<path d="M1380.5 762.2V966.5M1373.7 762.2H1387.3M1373.7 966.5H1387.3" stroke="#552f2f" stroke-width="1.9" fill="none"/>
<path d="M1400 789.4V918.2M1393.2 789.4H1406.8M1393.2 918.2H1406.8" stroke="#552f2f" stroke-width="1.9" fill="none"/>
<path d="M1518.1 816.9V954.4M1511.3 816.9H1524.9M1511.3 954.4H1524.9" stroke="#552f2f" stroke-width="1.9" fill="none"/>
<path d="M1124.7 1180.9 L1242.2 1213 L1261.7 1202.4 L1282.3 1159.3 L1293.9 1118.1 L1309.9 1071.4 L1333 996.6 L1348.9 948.7 L1360.6 907.6 L1380.5 864.8 L1400 853.8 L1518.1 886.1" stroke="#4f2d2d" stroke-width="2.3" fill="none"/>
<g fill="#4f2d2d"><rect x="1115.9" y="1172.1" width="17.6" height="17.6"/><rect x="1233.4" y="1204.2" width="17.6" height="17.6"/><rect x="1252.9" y="1193.6" width="17.6" height="17.6"/><rect x="1273.5" y="1150.5" width="17.6" height="17.6"/><rect x="1285.1" y="1109.3" width="17.6" height="17.6"/><rect x="1301.1" y="1062.6" width="17.6" height="17.6"/><rect x="1324.2" y="987.8" width="17.6" height="17.6"/><rect x="1340.1" y="939.9" width="17.6" height="17.6"/><rect x="1351.8" y="898.8" width="17.6" height="17.6"/><rect x="1371.7" y="856" width="17.6" height="17.6"/><rect x="1391.2" y="845" width="17.6" height="17.6"/><rect x="1509.3" y="877.3" width="17.6" height="17.6"/></g>
<text x="955" y="746.3" font-size="32.5" font-weight="bold" textLength="20.8" lengthAdjust="spacingAndGlyphs" stroke="#231f20" stroke-width="1.4" stroke-linejoin="round">d</text>
<text x="1103.2" y="1197.3" font-size="30.5" text-anchor="end" textLength="68.5" lengthAdjust="spacingAndGlyphs"><tspan font-size="25.5" dy="-1.2">–</tspan><tspan dy="1.2">0.01</tspan></text>
<text x="1105.8" y="1042.7" font-size="30.5" text-anchor="end" textLength="16.37" lengthAdjust="spacingAndGlyphs">0</text>
<text x="1103.2" y="888.3" font-size="30.5" text-anchor="end" textLength="57.29" lengthAdjust="spacingAndGlyphs">0.01</text>
<text x="1539" y="1320.4" font-size="30.5" textLength="55.2" lengthAdjust="spacingAndGlyphs"><tspan font-size="25.5" dy="-1.2">–</tspan><tspan dy="1.2">0.4</tspan></text>
<text x="1539" y="1182.5" font-size="30.5" textLength="55.2" lengthAdjust="spacingAndGlyphs"><tspan font-size="25.5" dy="-1.2">–</tspan><tspan dy="1.2">0.2</tspan></text>
<text x="1538" y="1043.4" font-size="30.5" textLength="16.37" lengthAdjust="spacingAndGlyphs">0</text>
<text x="1538" y="905.6" font-size="30.5" textLength="40.92" lengthAdjust="spacingAndGlyphs">0.2</text>
<text x="1538" y="768.1" font-size="30.5" textLength="40.92" lengthAdjust="spacingAndGlyphs">0.4</text>
<text x="1125.6" y="1354.2" font-size="30.5" text-anchor="middle" textLength="55.2" lengthAdjust="spacingAndGlyphs"><tspan font-size="25.5" dy="-1.2">–</tspan><tspan dy="1.2">0.5</tspan></text>
<text x="1321.9" y="1354.2" font-size="30.5" text-anchor="middle" textLength="16.37" lengthAdjust="spacingAndGlyphs">0</text>
<text x="1518.1" y="1354.2" font-size="30.5" text-anchor="middle" textLength="40.92" lengthAdjust="spacingAndGlyphs">0.5</text>
<text x="1325.5" y="1398.5" font-size="28.9" text-anchor="middle" textLength="222" lengthAdjust="spacingAndGlyphs">Magnetic field (T)</text>
<text x="1008" y="1039.8" font-size="28.9" text-anchor="middle" textLength="254" lengthAdjust="spacingAndGlyphs" transform="rotate(-90 1008 1039.8)">MOKE angle (mrad)</text>
<text x="1646.8" y="1037.3" font-size="28.9" text-anchor="middle" textLength="271" lengthAdjust="spacingAndGlyphs" transform="rotate(-90 1646.8 1037.3)">Magnetization (<tspan font-style="italic">μ</tspan><tspan font-size="21.5" dy="8.2">B</tspan><tspan dy="-8.2">/Ti)</tspan></text>
<line x1="1127.9" y1="788.1" x2="1169" y2="788.1" stroke="#d1d3d4" stroke-width="4.6" stroke-dasharray="8.5 7.5"/>
<text x="1181.2" y="795.6" font-size="24.2" textLength="180.5" lengthAdjust="spacingAndGlyphs">25 K equilibrium</text>
<rect x="1145" y="815" width="16.3" height="16.3" fill="#4f2d2d"/>
<text x="1171.4" y="830.9" font-size="24.2" textLength="150.5" lengthAdjust="spacingAndGlyphs">60 K pumped</text>
</g>
</svg>
</body>
</html>
